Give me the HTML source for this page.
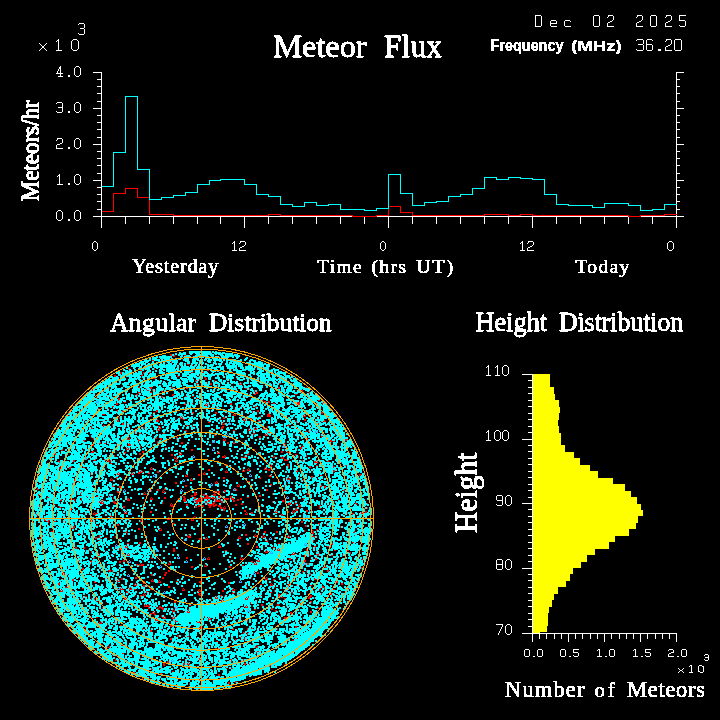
<!DOCTYPE html>
<html><head><meta charset="utf-8"><style>
html,body{margin:0;padding:0;background:#000;width:720px;height:720px;overflow:hidden}
svg{display:block}
</style></head><body>
<svg width="720" height="720" viewBox="0 0 720 720" shape-rendering="crispEdges">
<rect width="720" height="720" fill="#000"/>
<g stroke="#f00" fill="none"><path d="M211 352.5H212"/><path d="M170 354.5H172"/><path d="M170 355.5H186" stroke-dasharray="2 2 1 9 2 800"/><path d="M173 356.5H175"/><path d="M152 360.5H154"/><path d="M171 361.5H172"/><path d="M171 362.5H172"/><path d="M187 364.5H189"/><path d="M192 365.5H193"/><path d="M221 366.5H222"/><path d="M262 367.5H263"/><path d="M128 368.5H263" stroke-dasharray="2 24 1 107 1 800"/><path d="M128 369.5H232" stroke-dasharray="1 15 1 9 1 36 2 3 1 10 2 22 1 800"/><path d="M140 370.5H209" stroke-dasharray="2 65 2 800"/><path d="M203 371.5H250" stroke-dasharray="1 45 1 800"/><path d="M120 372.5H204" stroke-dasharray="2 21 2 4 2 40 2 9 2 800"/><path d="M120 373.5H150" stroke-dasharray="2 21 1 5 1 800"/><path d="M142 374.5H143"/><path d="M114 375.5H178" stroke-dasharray="2 25 2 34 1 800"/><path d="M114 376.5H179" stroke-dasharray="2 61 2 800"/><path d="M153 377.5H206" stroke-dasharray="1 50 2 800"/><path d="M153 378.5H260" stroke-dasharray="3 49 2 29 1 22 1 800"/><path d="M199 379.5H260" stroke-dasharray="1 5 2 22 1 29 1 800"/><path d="M195 380.5H230" stroke-dasharray="2 17 1 14 1 800"/><path d="M195 381.5H215" stroke-dasharray="1 18 1 800"/><path d="M161 382.5H241" stroke-dasharray="1 45 1 12 1 19 1 800"/><path d="M196 383.5H281" stroke-dasharray="2 9 1 2 2 21 1 5 1 1 1 37 2 800"/><path d="M196 384.5H242" stroke-dasharray="1 13 2 5 1 21 3 800"/><path d="M217 385.5H218"/><path d="M193 386.5H194"/><path d="M138 387.5H307" stroke-dasharray="2 9 3 19 2 19 2 39 1 44 2 25 2 800"/><path d="M145 388.5H310" stroke-dasharray="1 4 2 19 2 13 2 57 2 2 1 28 2 29 1 800"/><path d="M92 389.5H250" stroke-dasharray="1 53 1 5 1 11 1 19 1 35 1 9 1 18 1 800"/><path d="M92 390.5H303" stroke-dasharray="1 10 1 43 2 3 1 2 1 7 1 48 1 22 1 18 1 46 2 800"/><path d="M103 391.5H303" stroke-dasharray="1 51 1 5 2 91 1 46 2 800"/><path d="M138 392.5H310" stroke-dasharray="2 10 2 27 1 76 2 43 2 6 1 800"/><path d="M138 393.5H310" stroke-dasharray="1 116 3 51 1 800"/><path d="M136 394.5H297" stroke-dasharray="2 34 2 80 2 39 2 800"/><path d="M137 395.5H174" stroke-dasharray="1 34 2 800"/><path d="M106 396.5H194" stroke-dasharray="1 54 2 22 2 5 2 800"/><path d="M96 397.5H293" stroke-dasharray="1 64 2 82 1 46 1 800"/><path d="M97 398.5H219" stroke-dasharray="1 20 2 55 2 19 2 20 1 800"/><path d="M118 399.5H251" stroke-dasharray="2 130 1 800"/><path d="M118 400.5H320" stroke-dasharray="1 12 1 130 1 55 2 800"/><path d="M264 401.5H324" stroke-dasharray="2 2 2 53 1 800"/><path d="M124 402.5H324" stroke-dasharray="2 138 2 2 2 27 3 23 1 800"/><path d="M116 403.5H323" stroke-dasharray="2 67 1 6 1 13 1 5 2 16 2 41 2 22 3 16 1 5 1 800"/><path d="M116 404.5H323" stroke-dasharray="2 66 2 19 1 1 1 22 2 66 2 22 1 800"/><path d="M205 405.5H299" stroke-dasharray="3 90 1 800"/><path d="M112 406.5H257" stroke-dasharray="2 45 1 79 2 14 2 800"/><path d="M128 407.5H312" stroke-dasharray="1 87 1 22 1 15 1 55 1 800"/><path d="M98 408.5H283" stroke-dasharray="1 9 1 18 2 114 1 38 1 800"/><path d="M97 409.5H250" stroke-dasharray="1 136 1 14 1 800"/><path d="M80 410.5H259" stroke-dasharray="1 36 1 4 1 33 2 99 2 800"/><path d="M117 411.5H323" stroke-dasharray="1 4 2 32 2 94 1 4 2 63 1 800"/><path d="M68 412.5H323" stroke-dasharray="2 83 2 37 2 21 2 13 2 20 1 68 2 800"/><path d="M193 413.5H323" stroke-dasharray="1 21 2 17 1 33 1 52 2 800"/><path d="M102 414.5H326" stroke-dasharray="3 128 1 1 1 31 3 34 1 19 2 800"/><path d="M69 415.5H306" stroke-dasharray="1 81 1 81 3 31 4 32 1 1 1 800"/><path d="M150 416.5H329" stroke-dasharray="2 29 1 64 1 12 2 6 4 32 3 22 1 800"/><path d="M119 417.5H242" stroke-dasharray="1 59 2 1 1 40 2 16 1 800"/><path d="M119 418.5H252" stroke-dasharray="1 60 3 40 2 19 1 5 2 800"/><path d="M157 419.5H306" stroke-dasharray="1 9 1 15 2 24 1 9 2 22 1 1 1 58 2 800"/><path d="M117 420.5H325" stroke-dasharray="2 37 3 60 1 23 3 12 2 44 2 18 1 800"/><path d="M102 421.5H326" stroke-dasharray="1 14 2 37 3 49 1 49 1 36 2 20 1 5 3 800"/><path d="M208 422.5H297" stroke-dasharray="2 13 1 72 1 800"/><path d="M122 423.5H319" stroke-dasharray="2 98 1 1 1 93 1 800"/><path d="M112 424.5H319" stroke-dasharray="1 9 2 5 1 92 3 63 1 29 1 800"/><path d="M103 425.5H289" stroke-dasharray="2 7 1 73 2 4 1 94 2 800"/><path d="M91 426.5H312" stroke-dasharray="1 11 1 54 2 32 1 29 2 43 1 43 1 800"/><path d="M91 427.5H311" stroke-dasharray="1 33 1 17 2 13 1 1 1 60 3 31 1 8 1 2 1 42 1 800"/><path d="M91 428.5H297" stroke-dasharray="2 50 2 13 3 60 2 26 1 4 1 1 1 6 1 1 1 30 1 800"/><path d="M78 429.5H266" stroke-dasharray="1 57 2 19 1 1 1 56 2 2 1 27 1 1 1 3 3 6 3 800"/><path d="M157 430.5H309" stroke-dasharray="3 17 2 6 2 46 2 13 3 57 1 800"/><path d="M134 431.5H309" stroke-dasharray="1 51 1 118 2 1 1 800"/><path d="M134 432.5H310" stroke-dasharray="1 133 2 39 1 800"/><path d="M139 433.5H267" stroke-dasharray="2 22 2 88 2 11 1 800"/><path d="M214 434.5H324" stroke-dasharray="1 38 2 10 1 1 1 55 1 800"/><path d="M214 435.5H268" stroke-dasharray="2 49 3 800"/><path d="M259 436.5H323" stroke-dasharray="2 35 1 24 2 800"/><path d="M91 437.5H322" stroke-dasharray="1 36 1 27 1 19 2 81 2 15 1 44 1 800"/><path d="M93 438.5H308" stroke-dasharray="1 33 1 1 1 14 1 10 2 3 2 14 1 47 1 81 2 800"/><path d="M93 439.5H348" stroke-dasharray="1 33 3 8 1 21 2 14 1 46 1 1 1 80 2 4 1 32 3 800"/><path d="M83 440.5H347" stroke-dasharray="2 53 2 25 2 56 3 104 2 13 2 800"/><path d="M74 441.5H335" stroke-dasharray="2 8 1 72 2 171 2 1 2 800"/><path d="M100 442.5H235" stroke-dasharray="1 56 1 23 2 44 2 4 2 800"/><path d="M99 443.5H285" stroke-dasharray="2 3 2 23 1 27 1 23 2 44 2 4 2 49 1 800"/><path d="M92 444.5H286" stroke-dasharray="2 22 1 11 3 152 1 1 1 800"/><path d="M92 445.5H335" stroke-dasharray="2 22 1 4 1 6 3 153 2 48 1 800"/><path d="M140 446.5H340" stroke-dasharray="1 161 2 35 1 800"/><path d="M127 447.5H340" stroke-dasharray="1 8 1 3 1 24 2 133 2 37 1 800"/><path d="M126 448.5H302" stroke-dasharray="1 1 1 21 2 148 2 800"/><path d="M62 449.5H325" stroke-dasharray="1 63 3 62 2 60 2 69 1 800"/><path d="M61 450.5H289" stroke-dasharray="2 128 2 60 2 33 1 800"/><path d="M92 451.5H290" stroke-dasharray="2 48 2 74 1 26 1 35 2 4 1 1 1 800"/><path d="M54 452.5H290" stroke-dasharray="1 36 3 30 2 16 2 36 1 36 1 1 1 61 2 4 3 800"/><path d="M53 453.5H249" stroke-dasharray="1 1 1 69 1 13 2 38 1 1 1 35 3 28 1 800"/><path d="M53 454.5H297" stroke-dasharray="3 83 2 30 2 6 3 65 2 46 2 800"/><path d="M114 455.5H307" stroke-dasharray="1 56 2 51 1 70 1 10 1 800"/><path d="M114 456.5H307" stroke-dasharray="1 60 1 46 2 1 1 18 1 28 2 7 1 15 1 7 1 800"/><path d="M50 457.5H346" stroke-dasharray="2 122 1 1 1 45 4 15 2 1 3 26 2 6 1 1 1 14 1 46 1 800"/><path d="M174 458.5H346" stroke-dasharray="3 104 3 61 1 800"/><path d="M95 459.5H287" stroke-dasharray="1 8 1 4 1 66 1 107 3 800"/><path d="M73 460.5H329" stroke-dasharray="2 19 2 9 1 2 1 1 1 64 1 1 1 106 4 13 2 13 1 11 1 800"/><path d="M58 461.5H353" stroke-dasharray="2 13 2 33 3 64 3 124 1 11 2 1 1 9 2 23 1 800"/><path d="M59 462.5H353" stroke-dasharray="1 254 4 23 1 10 1 800"/><path d="M110 463.5H112"/><path d="M225 464.5H289" stroke-dasharray="2 43 1 16 2 800"/><path d="M225 465.5H347" stroke-dasharray="2 42 1 1 1 15 2 27 2 27 2 800"/><path d="M60 466.5H335" stroke-dasharray="1 10 1 197 3 16 1 20 2 22 2 800"/><path d="M59 467.5H334" stroke-dasharray="1 1 1 7 2 12 2 66 1 113 1 22 1 20 2 22 1 800"/><path d="M59 468.5H272" stroke-dasharray="3 7 2 79 1 1 1 95 1 15 1 1 1 3 2 800"/><path d="M150 469.5H306" stroke-dasharray="3 55 2 33 1 3 1 1 1 14 3 1 2 35 1 800"/><path d="M141 470.5H335" stroke-dasharray="1 66 2 16 1 15 1 1 1 2 3 18 2 27 1 15 1 19 2 800"/><path d="M140 471.5H335" stroke-dasharray="1 1 1 14 2 66 1 1 1 14 3 51 2 35 2 800"/><path d="M118 472.5H228" stroke-dasharray="1 13 1 5 5 6 1 7 2 45 1 20 3 800"/><path d="M90 473.5H206" stroke-dasharray="1 26 1 1 1 11 1 1 1 4 2 8 2 53 1 1 1 800"/><path d="M90 474.5H362" stroke-dasharray="1 26 3 11 3 52 1 11 2 3 3 64 1 48 1 39 3 800"/><path d="M185 475.5H361" stroke-dasharray="1 1 1 10 2 69 1 1 1 48 2 37 2 800"/><path d="M185 476.5H313" stroke-dasharray="3 81 3 39 2 800"/><path d="M116 477.5H313" stroke-dasharray="2 105 2 35 1 27 1 10 1 11 2 800"/><path d="M111 478.5H300" stroke-dasharray="1 4 1 74 1 31 2 34 2 26 1 1 1 9 1 800"/><path d="M74 479.5H305" stroke-dasharray="1 35 1 1 1 77 1 1 1 94 3 13 2 800"/><path d="M54 480.5H310" stroke-dasharray="1 19 1 35 3 77 3 110 1 5 1 800"/><path d="M78 481.5H250" stroke-dasharray="1 137 1 31 2 800"/><path d="M175 482.5H218" stroke-dasharray="2 38 1 1 1 800"/><path d="M72 483.5H218" stroke-dasharray="1 102 2 38 3 800"/><path d="M72 484.5H353" stroke-dasharray="1 165 1 31 2 80 1 800"/><path d="M93 485.5H354" stroke-dasharray="1 18 1 72 2 50 1 1 1 31 1 12 1 36 1 31 1 800"/><path d="M112 486.5H326" stroke-dasharray="2 5 2 64 2 50 3 44 1 35 2 2 2 800"/><path d="M86 487.5H326" stroke-dasharray="1 32 2 203 2 800"/><path d="M37 488.5H236" stroke-dasharray="1 99 1 26 1 70 1 800"/><path d="M37 489.5H345" stroke-dasharray="2 118 2 5 2 68 1 1 1 29 2 16 1 59 1 800"/><path d="M96 490.5H345" stroke-dasharray="1 54 1 5 2 4 1 60 2 10 1 29 2 16 2 57 2 800"/><path d="M96 491.5H226" stroke-dasharray="1 20 2 32 1 10 1 1 1 48 4 1 2 4 2 800"/><path d="M58 492.5H309" stroke-dasharray="1 22 1 35 2 25 1 17 3 29 2 17 4 1 2 88 1 800"/><path d="M80 493.5H310" stroke-dasharray="1 62 1 1 1 48 3 17 1 3 2 52 1 34 1 1 1 800"/><path d="M38 494.5H310" stroke-dasharray="1 104 3 48 3 6 2 8 3 56 1 34 3 800"/><path d="M38 495.5H261" stroke-dasharray="1 42 1 109 2 1 2 7 2 1 2 5 3 43 2 800"/><path d="M86 496.5H332" stroke-dasharray="1 9 2 3 1 81 2 6 2 13 3 9 2 1 2 7 2 27 2 61 1 8 1 800"/><path d="M47 497.5H249" stroke-dasharray="2 64 1 37 1 12 2 17 2 9 2 4 3 1 7 1 2 4 2 1 2 7 2 15 2 800"/><path d="M70 498.5H305" stroke-dasharray="1 10 1 31 1 13 2 21 1 1 1 11 2 12 2 4 2 8 2 2 5 1 7 1 2 1 2 7 5 2 3 6 2 61 2 800"/><path d="M61 499.5H339" stroke-dasharray="1 8 2 1 2 6 1 45 3 20 3 25 2 3 3 11 3 1 2 12 2 2 2 3 5 2 3 3 2 1 2 61 1 34 1 800"/><path d="M60 500.5H284" stroke-dasharray="2 12 1 6 1 18 1 2 1 23 3 53 3 9 8 5 2 5 6 12 2 2 2 43 2 800"/><path d="M99 501.5H293" stroke-dasharray="1 1 2 10 2 69 2 9 6 4 2 1 2 5 5 1 2 10 2 37 1 9 2 8 1 800"/><path d="M99 502.5H292" stroke-dasharray="3 1 1 9 3 46 1 33 2 7 2 6 2 6 2 49 1 16 1 1 1 800"/><path d="M101 503.5H368" stroke-dasharray="3 10 2 46 1 8 1 24 2 9 2 3 3 26 2 45 3 4 2 58 2 10 1 800"/><path d="M53 504.5H357" stroke-dasharray="2 115 1 1 1 13 2 19 7 1 2 18 2 4 2 45 3 4 1 3 1 56 1 800"/><path d="M39 505.5H321" stroke-dasharray="1 130 3 13 2 10 2 2 2 4 4 1 4 1 3 14 2 61 1 1 1 18 2 800"/><path d="M39 506.5H334" stroke-dasharray="1 19 1 63 2 46 2 22 2 1 2 2 2 5 2 2 2 3 3 3 1 36 1 36 3 18 1 12 2 800"/><path d="M59 507.5H368" stroke-dasharray="2 62 2 70 2 12 2 9 2 1 1 1 1 93 1 12 1 34 1 800"/><path d="M71 508.5H368" stroke-dasharray="1 148 2 1 3 69 2 22 2 43 1 2 1 800"/><path d="M71 509.5H298" stroke-dasharray="1 151 2 70 3 800"/><path d="M89 510.5H308" stroke-dasharray="1 133 2 19 2 11 1 18 1 16 1 1 3 8 2 800"/><path d="M125 511.5H367" stroke-dasharray="1 24 2 92 2 11 1 17 1 1 1 9 2 3 1 1 1 11 2 54 1 2 2 800"/><path d="M94 512.5H367" stroke-dasharray="1 9 1 19 1 1 1 23 2 94 1 4 2 22 3 9 2 3 3 52 1 13 1 1 1 1 2 800"/><path d="M35 513.5H364" stroke-dasharray="1 57 1 1 3 26 3 118 1 1 1 3 2 94 1 4 2 7 3 800"/><path d="M36 514.5H353" stroke-dasharray="1 32 1 23 3 149 3 33 2 69 1 800"/><path d="M37 515.5H283" stroke-dasharray="1 31 1 41 1 169 2 800"/><path d="M110 516.5H195" stroke-dasharray="2 82 1 800"/><path d="M168 517.5H317" stroke-dasharray="1 24 1 1 1 74 1 45 1 800"/><path d="M167 518.5H317" stroke-dasharray="1 1 1 22 4 73 1 46 1 800"/><path d="M44 519.5H194" stroke-dasharray="1 46 1 37 1 11 1 25 3 21 1 1 1 800"/><path d="M44 520.5H350" stroke-dasharray="2 2 2 40 1 1 1 35 1 11 1 1 1 48 3 155 1 800"/><path d="M47 521.5H350" stroke-dasharray="2 5 2 9 1 18 1 5 3 33 1 13 3 158 2 46 1 800"/><path d="M33 522.5H303" stroke-dasharray="1 14 1 16 1 235 2 800"/><path d="M173 523.5H360" stroke-dasharray="2 143 2 6 1 31 2 800"/><path d="M103 524.5H359" stroke-dasharray="1 13 2 54 1 145 1 6 1 31 1 800"/><path d="M96 525.5H307" stroke-dasharray="2 17 1 1 2 186 2 800"/><path d="M73 526.5H341" stroke-dasharray="2 39 2 189 2 33 1 800"/><path d="M73 527.5H341" stroke-dasharray="2 265 1 800"/><path d="M72 528.5H161" stroke-dasharray="2 64 2 20 1 800"/><path d="M138 529.5H318" stroke-dasharray="2 19 1 1 1 154 2 800"/><path d="M100 530.5H317" stroke-dasharray="1 58 3 142 1 7 1 3 1 800"/><path d="M51 531.5H355" stroke-dasharray="2 38 2 7 1 25 1 137 2 10 2 26 1 6 1 1 1 32 1 7 1 800"/><path d="M125 532.5H355" stroke-dasharray="2 137 2 10 2 33 3 32 1 6 2 800"/><path d="M79 533.5H314" stroke-dasharray="1 47 1 184 2 800"/><path d="M78 534.5H256" stroke-dasharray="2 47 1 60 1 56 2 8 1 800"/><path d="M42 535.5H355" stroke-dasharray="1 56 2 86 1 1 1 55 2 7 1 1 1 6 1 24 1 65 1 800"/><path d="M42 536.5H315" stroke-dasharray="1 56 1 15 1 71 4 48 1 14 3 5 1 1 1 22 1 1 1 22 3 800"/><path d="M95 537.5H335" stroke-dasharray="2 2 1 5 2 8 1 72 3 15 1 31 1 1 1 21 3 9 1 12 3 24 1 19 1 800"/><path d="M39 538.5H275" stroke-dasharray="2 44 1 9 2 3 1 18 2 78 2 4 1 1 1 30 3 33 1 800"/><path d="M41 539.5H208" stroke-dasharray="1 157 2 4 3 800"/><path d="M41 540.5H314" stroke-dasharray="1 57 1 167 1 45 1 800"/><path d="M266 541.5H347" stroke-dasharray="2 45 1 32 1 800"/><path d="M53 542.5H354" stroke-dasharray="1 85 2 211 2 800"/><path d="M99 543.5H369" stroke-dasharray="1 27 2 10 2 106 2 29 2 52 1 35 1 800"/><path d="M247 544.5H333" stroke-dasharray="2 82 2 800"/><path d="M54 545.5H351" stroke-dasharray="2 70 1 92 1 130 1 800"/><path d="M125 546.5H329" stroke-dasharray="1 1 1 90 1 1 1 35 2 56 2 11 2 800"/><path d="M34 547.5H331" stroke-dasharray="1 40 2 7 1 35 1 4 3 90 3 35 2 15 2 32 2 6 1 13 2 800"/><path d="M75 548.5H309" stroke-dasharray="2 6 2 34 1 1 1 51 2 103 1 28 2 800"/><path d="M88 549.5H308" stroke-dasharray="1 30 3 51 2 102 1 1 1 26 2 800"/><path d="M89 550.5H349" stroke-dasharray="1 83 2 50 2 39 1 10 3 26 2 26 2 11 2 800"/><path d="M91 551.5H364" stroke-dasharray="1 81 2 90 1 1 1 1 1 46 1 46 1 800"/><path d="M91 552.5H351" stroke-dasharray="1 173 3 25 1 55 2 800"/><path d="M98 553.5H351" stroke-dasharray="1 16 1 12 1 3 1 159 1 1 1 24 1 30 1 800"/><path d="M97 554.5H343" stroke-dasharray="1 1 1 27 1 1 1 162 3 14 1 6 3 23 1 800"/><path d="M97 555.5H343" stroke-dasharray="3 27 3 174 1 4 2 6 2 12 2 9 1 800"/><path d="M304 556.5H306"/><path d="M79 557.5H337" stroke-dasharray="1 14 1 56 1 34 2 20 1 32 1 94 1 800"/><path d="M93 558.5H317" stroke-dasharray="2 56 2 33 2 19 1 1 1 30 1 1 1 46 2 24 2 800"/><path d="M207 559.5H366" stroke-dasharray="3 30 3 15 1 24 1 5 2 20 1 3 2 44 2 2 1 800"/><path d="M79 560.5H306" stroke-dasharray="1 43 2 132 1 1 1 44 2 800"/><path d="M78 561.5H306" stroke-dasharray="1 11 2 3 1 23 2 2 2 105 1 20 2 4 3 44 2 800"/><path d="M91 562.5H256" stroke-dasharray="1 27 2 48 1 60 1 21 1 2 1 800"/><path d="M98 563.5H333" stroke-dasharray="1 41 1 27 1 1 1 83 1 1 1 50 2 23 1 800"/><path d="M90 564.5H360" stroke-dasharray="1 45 2 1 1 1 3 24 3 34 1 48 3 50 2 50 1 800"/><path d="M136 565.5H244" stroke-dasharray="1 2 5 60 1 1 1 35 2 800"/><path d="M191 566.5H326" stroke-dasharray="2 11 3 22 2 94 1 800"/><path d="M191 567.5H363" stroke-dasharray="2 36 2 94 2 7 1 26 2 800"/><path d="M82 568.5H362" stroke-dasharray="2 277 1 800"/><path d="M82 569.5H291" stroke-dasharray="2 36 1 168 2 800"/><path d="M108 570.5H329" stroke-dasharray="3 1 1 55 2 125 1 10 1 20 2 800"/><path d="M109 571.5H329" stroke-dasharray="2 1 1 55 2 68 1 15 1 47 2 2 1 20 2 800"/><path d="M50 572.5H332" stroke-dasharray="1 12 1 101 2 71 1 18 2 43 1 28 1 800"/><path d="M62 573.5H311" stroke-dasharray="1 1 1 100 2 90 2 38 2 11 1 800"/><path d="M62 574.5H311" stroke-dasharray="3 86 2 11 2 121 1 9 1 11 2 800"/><path d="M91 575.5H288" stroke-dasharray="1 59 2 11 2 121 1 800"/><path d="M92 576.5H289" stroke-dasharray="1 194 2 800"/><path d="M135 577.5H267" stroke-dasharray="2 25 2 87 1 14 1 800"/><path d="M107 578.5H315" stroke-dasharray="1 13 2 12 2 25 2 101 1 1 1 25 1 20 1 800"/><path d="M63 579.5H317" stroke-dasharray="1 8 2 44 1 2 2 29 1 112 3 5 2 39 3 800"/><path d="M72 580.5H337" stroke-dasharray="2 43 1 1 1 31 1 1 1 5 1 113 1 54 2 6 1 800"/><path d="M94 581.5H338" stroke-dasharray="1 22 3 24 1 6 3 4 1 1 1 15 2 21 2 78 1 55 1 1 1 800"/><path d="M94 582.5H338" stroke-dasharray="2 47 1 1 1 12 3 38 3 26 2 105 3 800"/><path d="M58 583.5H343" stroke-dasharray="2 75 1 7 3 54 2 26 2 41 1 69 2 800"/><path d="M58 584.5H343" stroke-dasharray="2 74 1 1 1 123 2 8 1 1 1 15 2 6 1 44 2 800"/><path d="M99 585.5H312" stroke-dasharray="1 34 3 6 2 2 2 97 1 23 3 15 2 6 1 13 2 800"/><path d="M143 586.5H324" stroke-dasharray="2 2 2 19 2 76 1 75 2 800"/><path d="M65 587.5H325" stroke-dasharray="3 53 1 8 1 37 2 104 1 12 1 34 3 800"/><path d="M82 588.5H349" stroke-dasharray="2 36 1 1 1 6 1 1 1 18 2 31 1 49 1 86 1 3 1 23 1 800"/><path d="M61 589.5H335" stroke-dasharray="1 58 3 6 3 2 2 14 2 30 1 1 1 14 1 32 1 1 1 84 2 12 2 800"/><path d="M60 590.5H353" stroke-dasharray="1 1 1 9 1 109 3 13 1 1 1 21 2 8 3 39 1 77 1 800"/><path d="M60 591.5H307" stroke-dasharray="3 64 1 18 2 50 3 21 2 50 1 31 1 800"/><path d="M126 592.5H293" stroke-dasharray="2 18 1 85 1 37 2 19 2 800"/><path d="M128 593.5H332" stroke-dasharray="1 15 1 53 3 31 2 5 1 46 1 34 1 8 2 800"/><path d="M143 594.5H332" stroke-dasharray="1 1 1 52 2 1 1 76 2 6 1 34 1 8 2 800"/><path d="M140 595.5H312" stroke-dasharray="2 1 3 53 3 18 2 30 1 8 1 16 2 30 2 800"/><path d="M68 596.5H312" stroke-dasharray="1 16 2 47 1 5 1 75 1 3 1 3 1 23 1 29 2 2 1 26 3 800"/><path d="M82 597.5H338" stroke-dasharray="1 42 1 89 1 1 1 28 1 1 1 10 1 21 2 25 3 26 1 800"/><path d="M83 598.5H310" stroke-dasharray="1 7 1 2 1 29 1 1 1 88 3 27 1 1 1 36 2 22 2 800"/><path d="M91 599.5H285" stroke-dasharray="1 2 1 29 3 81 1 13 1 22 3 36 1 800"/><path d="M95 600.5H301" stroke-dasharray="1 125 1 1 1 75 2 800"/><path d="M96 601.5H312" stroke-dasharray="1 77 2 45 3 75 1 10 2 800"/><path d="M174 602.5H340" stroke-dasharray="2 74 1 60 1 21 1 5 1 800"/><path d="M250 603.5H340" stroke-dasharray="1 49 1 38 1 800"/><path d="M129 604.5H279" stroke-dasharray="1 15 1 2 1 66 1 45 2 14 2 800"/><path d="M75 605.5H279" stroke-dasharray="1 68 1 1 2 1 1 39 2 55 1 14 2 14 2 800"/><path d="M144 606.5H330" stroke-dasharray="6 5 1 3 2 84 1 1 1 34 1 3 1 42 1 800"/><path d="M102 607.5H333" stroke-dasharray="1 45 1 7 1 2 4 11 1 70 3 70 1 13 1 800"/><path d="M102 608.5H319" stroke-dasharray="1 31 1 13 2 7 2 2 3 107 2 44 2 800"/><path d="M100 609.5H297" stroke-dasharray="1 57 1 3 2 9 1 14 1 65 2 15 2 22 2 800"/><path d="M65 610.5H277" stroke-dasharray="1 34 1 71 1 1 1 3 1 9 1 86 2 800"/><path d="M153 611.5H312" stroke-dasharray="1 18 3 12 1 1 1 60 1 24 1 34 2 800"/><path d="M152 612.5H312" stroke-dasharray="1 1 1 32 3 100 2 18 2 800"/><path d="M150 613.5H292" stroke-dasharray="5 132 1 2 2 800"/><path d="M151 614.5H156" stroke-dasharray="1 2 2 800"/><path d="M78 615.5H178" stroke-dasharray="1 75 1 6 1 15 1 800"/><path d="M161 616.5H205" stroke-dasharray="1 2 1 8 1 30 1 800"/><path d="M76 617.5H287" stroke-dasharray="1 14 1 4 2 35 2 23 1 3 2 1 1 6 1 1 1 34 1 17 1 56 3 800"/><path d="M91 618.5H287" stroke-dasharray="2 27 1 35 1 6 3 6 3 33 1 1 1 73 3 800"/><path d="M155 619.5H239" stroke-dasharray="1 1 1 50 3 27 1 800"/><path d="M155 620.5H248" stroke-dasharray="3 17 1 71 1 800"/><path d="M100 621.5H248" stroke-dasharray="1 13 1 60 3 21 1 47 1 800"/><path d="M77 622.5H200" stroke-dasharray="1 21 1 1 1 12 1 82 3 800"/><path d="M99 623.5H108" stroke-dasharray="3 5 1 800"/><path d="M107 624.5H172" stroke-dasharray="1 39 1 23 1 800"/><path d="M120 625.5H173" stroke-dasharray="2 48 3 800"/><path d="M84 626.5H297" stroke-dasharray="1 85 3 17 1 9 1 21 1 72 2 800"/><path d="M84 627.5H297" stroke-dasharray="2 27 1 85 2 21 1 72 2 800"/><path d="M142 628.5H278" stroke-dasharray="1 56 2 32 1 13 1 3 2 24 1 800"/><path d="M85 629.5H308" stroke-dasharray="1 56 1 18 1 23 1 13 1 32 2 13 1 29 1 29 1 800"/><path d="M85 630.5H152" stroke-dasharray="1 64 2 800"/><path d="M150 631.5H152"/><path d="M243 632.5H249" stroke-dasharray="2 3 1 800"/><path d="M243 633.5H248" stroke-dasharray="1 3 1 800"/><path d="M84 634.5H248" stroke-dasharray="1 129 1 32 1 800"/><path d="M177 635.5H179"/><path d="M177 636.5H242" stroke-dasharray="2 8 2 52 1 800"/><path d="M240 637.5H241"/><path d="M170 638.5H298" stroke-dasharray="2 72 1 49 1 2 1 800"/><path d="M170 639.5H245" stroke-dasharray="2 63 2 6 2 800"/><path d="M198 640.5H294" stroke-dasharray="1 36 1 56 2 800"/><path d="M216 641.5H218"/><path d="M173 642.5H174"/><path d="M252 643.5H253"/><path d="M100 644.5H123" stroke-dasharray="2 20 1 800"/><path d="M101 645.5H257" stroke-dasharray="1 6 1 12 2 81 1 23 1 27 1 800"/><path d="M107 646.5H258" stroke-dasharray="1 1 1 94 1 50 1 1 1 800"/><path d="M107 647.5H258" stroke-dasharray="3 145 3 800"/><path d="M180 648.5H217" stroke-dasharray="1 34 2 800"/><path d="M218 649.5H237" stroke-dasharray="2 16 1 800"/><path d="M240 650.5H241"/><path d="M257 651.5H259"/><path d="M171 652.5H257" stroke-dasharray="1 84 1 800"/><path d="M122 653.5H172" stroke-dasharray="2 47 1 800"/><path d="M255 654.5H256"/><path d="M117 655.5H261" stroke-dasharray="1 72 2 68 1 800"/><path d="M191 656.5H300" stroke-dasharray="1 106 2 800"/><path d="M200 657.5H300" stroke-dasharray="1 97 2 800"/><path d="M140 658.5H202" stroke-dasharray="1 45 1 12 1 1 1 800"/><path d="M115 659.5H244" stroke-dasharray="1 24 1 58 3 28 2 11 1 800"/><path d="M115 660.5H244" stroke-dasharray="2 71 1 29 1 12 1 11 1 800"/><path d="M167 661.5H236" stroke-dasharray="2 49 1 12 1 3 1 800"/><path d="M163 662.5H255" stroke-dasharray="2 2 2 19 1 65 1 800"/><path d="M163 663.5H246" stroke-dasharray="2 18 2 2 1 1 1 54 2 800"/><path d="M163 664.5H287" stroke-dasharray="2 18 2 2 3 46 1 7 2 3 1 35 2 800"/><path d="M163 665.5H275" stroke-dasharray="2 105 1 3 1 800"/><path d="M188 666.5H270" stroke-dasharray="1 80 1 800"/><path d="M188 667.5H226" stroke-dasharray="2 35 1 800"/><path d="M151 668.5H233" stroke-dasharray="1 8 1 65 1 4 2 800"/><path d="M151 669.5H153"/><path d="M222 670.5H223"/><path d="M172 671.5H174"/><path d="M133 672.5H135"/><path d="M138 673.5H162" stroke-dasharray="1 21 2 800"/><path d="M218 674.5H220"/><path d="M218 675.5H220"/><path d="M142 678.5H143"/><path d="M141 679.5H200" stroke-dasharray="1 1 1 55 1 800"/><path d="M199 680.5H200"/><path d="M235 681.5H237"/><path d="M164 682.5H236" stroke-dasharray="1 63 2 5 1 800"/><path d="M164 683.5H230" stroke-dasharray="2 23 1 38 2 800"/><path d="M189 684.5H190"/><path d="M232 685.5H233"/><path d="M188 686.5H189"/><path d="M188 687.5H189"/><path d="M198 689.5H199"/></g><g stroke="#0ff" fill="none"><path d="M189 351.5H217" stroke-dasharray="22 1 2 1 2 800"/><path d="M179 352.5H225" stroke-dasharray="2 2 3 3 22 1 9 1 3 800"/><path d="M175 353.5H233" stroke-dasharray="2 2 7 3 4 2 5 1 11 2 19 800"/><path d="M172 354.5H238" stroke-dasharray="2 1 2 1 8 4 2 4 5 1 12 1 2 1 5 2 8 1 4 800"/><path d="M162 355.5H240" stroke-dasharray="4 6 2 4 2 1 2 3 4 5 13 2 4 6 4 1 15 800"/><path d="M156 356.5H240" stroke-dasharray="2 1 13 8 3 1 7 2 16 2 3 1 4 2 13 1 5 800"/><path d="M152 357.5H248" stroke-dasharray="6 1 13 8 2 2 7 2 5 1 2 1 2 2 4 1 8 2 8 3 2 2 3 7 2 800"/><path d="M149 358.5H248" stroke-dasharray="2 1 5 3 10 1 2 2 2 1 3 3 5 4 6 6 5 2 6 1 9 8 2 7 3 800"/><path d="M145 359.5H253" stroke-dasharray="2 2 2 1 8 1 2 1 9 1 3 1 3 2 6 3 7 1 3 1 3 1 4 1 9 1 2 1 5 1 4 4 2 2 3 3 3 800"/><path d="M144 360.5H256" stroke-dasharray="7 3 6 1 17 5 6 3 4 1 6 1 2 1 5 1 9 1 2 1 16 2 2 3 7 800"/><path d="M140 361.5H261" stroke-dasharray="9 3 2 4 13 1 6 7 5 2 4 3 4 4 4 3 2 3 4 3 2 2 10 9 2 2 3 2 3 800"/><path d="M139 362.5H263" stroke-dasharray="5 1 3 4 2 2 2 2 2 1 2 2 3 2 6 2 3 4 3 2 6 1 5 4 3 2 3 5 2 3 2 1 3 1 8 5 5 3 9 800"/><path d="M135 363.5H266" stroke-dasharray="11 2 2 1 4 1 2 2 2 1 2 3 4 2 3 2 4 1 2 1 3 1 7 1 5 1 2 6 4 1 4 3 3 1 13 4 17 1 2 800"/><path d="M132 364.5H270" stroke-dasharray="8 1 5 1 10 2 6 1 6 1 4 2 4 1 2 5 2 2 2 1 2 1 2 2 4 1 4 1 2 1 4 3 5 2 3 1 7 5 22 800"/><path d="M131 365.5H270" stroke-dasharray="9 1 2 2 7 1 5 1 17 1 2 1 3 1 2 4 2 2 3 1 2 7 7 5 2 5 11 1 5 5 3 4 9 2 4 800"/><path d="M131 366.5H270" stroke-dasharray="11 2 8 1 23 1 2 2 8 1 6 1 6 1 2 1 6 3 5 1 2 2 11 1 5 2 8 1 10 2 4 800"/><path d="M126 367.5H269" stroke-dasharray="2 5 3 3 3 1 9 2 21 2 2 2 14 1 10 1 2 2 13 3 10 3 4 1 8 1 2 1 5 1 6 800"/><path d="M126 368.5H275" stroke-dasharray="2 5 2 3 12 2 2 2 2 2 3 3 9 1 3 1 15 1 5 1 3 2 10 3 4 3 7 1 2 3 4 1 10 2 5 1 6 4 2 800"/><path d="M123 369.5H279" stroke-dasharray="2 4 2 3 2 2 6 1 5 2 2 5 6 1 13 1 10 3 2 2 4 1 2 5 3 2 4 2 4 5 2 2 5 4 13 2 5 3 4 2 8 800"/><path d="M123 370.5H279" stroke-dasharray="5 1 3 2 2 6 2 3 4 4 2 2 3 1 2 1 10 1 4 5 7 2 5 1 2 7 9 4 2 4 2 2 13 2 6 5 5 2 7 1 5 800"/><path d="M118 371.5H282" stroke-dasharray="2 5 7 6 4 4 5 1 2 1 2 2 4 3 11 2 3 2 9 2 5 1 2 1 3 4 5 1 2 2 4 3 4 4 6 8 2 1 2 3 6 2 7 1 2 2 4 800"/><path d="M116 372.5H286" stroke-dasharray="4 2 2 1 7 3 2 1 4 3 4 3 2 5 6 3 10 2 2 2 7 4 6 3 4 4 2 5 5 3 5 4 9 5 5 2 5 4 3 1 3 1 2 1 9 800"/><path d="M116 373.5H286" stroke-dasharray="4 2 10 1 9 2 4 2 6 3 6 1 14 2 7 2 18 2 2 2 9 1 4 8 9 4 5 1 14 1 3 1 11 800"/><path d="M118 374.5H286" stroke-dasharray="3 1 10 1 9 2 4 1 7 6 2 2 9 3 2 2 17 1 5 2 17 1 2 1 7 2 9 2 3 2 2 1 3 1 10 1 3 1 5 3 3 800"/><path d="M118 375.5H290" stroke-dasharray="22 4 3 1 8 4 4 1 11 2 2 2 5 2 7 1 2 1 15 2 2 3 2 2 9 3 8 2 3 6 8 1 4 2 10 2 6 800"/><path d="M109 376.5H293" stroke-dasharray="4 3 2 2 5 1 15 1 15 3 2 3 4 2 5 6 15 2 4 1 8 5 2 4 2 1 7 3 2 2 5 1 2 2 2 6 7 1 4 2 4 1 7 1 5 1 2 800"/><path d="M109 377.5H293" stroke-dasharray="10 1 5 4 3 2 2 1 4 1 3 2 3 1 2 1 3 3 9 2 6 3 2 5 6 1 9 5 3 4 5 3 2 1 8 2 8 2 6 5 2 1 11 1 3 4 14 800"/><path d="M108 378.5H296" stroke-dasharray="2 2 7 1 6 3 11 3 2 2 3 1 2 7 8 3 6 3 7 1 5 3 7 5 3 4 5 6 8 3 3 3 2 1 6 1 2 2 2 1 6 2 8 2 9 2 2 2 3 800"/><path d="M106 379.5H297" stroke-dasharray="12 1 7 2 9 1 3 2 2 2 2 6 2 7 6 3 7 1 13 2 3 1 2 6 3 7 4 4 3 1 2 5 8 2 2 1 9 1 27 3 2 1 4 800"/><path d="M105 380.5H297" stroke-dasharray="13 1 6 3 7 4 4 2 4 1 2 3 4 1 2 5 4 5 4 2 6 1 5 3 2 2 4 7 2 4 4 1 3 1 2 1 2 7 4 4 2 2 8 1 15 1 2 1 8 3 7 800"/><path d="M103 381.5H298" stroke-dasharray="13 3 2 7 8 4 4 1 7 1 9 1 2 4 12 2 5 1 5 2 2 2 5 3 2 2 2 1 2 2 3 1 3 4 5 1 2 9 2 3 14 1 2 3 4 2 3 1 7 2 7 800"/><path d="M102 382.5H300" stroke-dasharray="9 1 2 1 2 2 2 3 6 2 4 3 5 1 5 1 10 2 3 2 13 1 6 3 2 3 2 2 7 1 2 3 6 2 4 2 2 1 8 6 5 1 7 2 7 1 2 4 4 1 3 1 7 5 6 800"/><path d="M100 383.5H302" stroke-dasharray="11 1 9 1 7 2 7 1 4 2 4 2 10 1 5 1 4 1 8 1 4 8 2 6 5 1 2 3 7 1 4 2 2 2 2 1 5 1 1 2 6 1 8 2 8 1 2 2 6 6 4 1 2 1 9 800"/><path d="M98 384.5H302" stroke-dasharray="5 1 6 1 9 2 7 1 9 2 2 1 14 4 5 1 3 1 9 2 5 6 2 1 2 3 8 3 2 3 2 2 9 5 3 4 2 7 7 6 7 1 2 2 2 5 5 1 12 800"/><path d="M96 385.5H302" stroke-dasharray="11 1 8 7 4 3 2 1 6 2 17 1 2 2 8 1 10 1 10 1 2 1 2 2 2 1 5 4 4 1 2 5 6 5 6 2 2 2 3 1 11 2 7 1 5 2 3 1 18 800"/><path d="M95 386.5H303" stroke-dasharray="12 1 9 6 7 3 5 2 13 3 5 2 6 3 3 1 6 4 7 2 2 3 3 1 8 2 3 1 2 1 9 1 2 1 9 1 7 2 10 3 2 5 5 2 3 1 2 2 5 2 8 800"/><path d="M95 387.5H305" stroke-dasharray="14 2 6 4 2 2 5 3 5 2 2 2 5 8 5 4 5 5 4 3 2 1 2 1 2 4 7 2 8 2 2 4 13 1 2 2 5 1 5 8 6 3 2 3 2 2 3 3 5 1 6 1 3 2 6 800"/><path d="M93 388.5H309" stroke-dasharray="6 1 3 1 5 2 3 1 8 4 2 4 7 1 3 2 4 6 8 1 6 2 2 2 8 4 2 6 4 5 2 6 2 2 9 2 8 1 4 5 2 2 2 5 4 8 4 1 2 4 3 3 6 1 2 3 10 800"/><path d="M93 389.5H310" stroke-dasharray="2 2 5 2 5 1 2 2 8 3 4 3 8 1 5 1 4 2 2 1 8 1 10 5 4 5 2 2 4 4 2 7 2 1 2 2 3 1 6 4 6 3 2 5 2 1 3 6 3 8 4 3 3 1 4 1 6 7 3 1 7 800"/><path d="M90 390.5H310" stroke-dasharray="2 1 10 1 5 1 18 4 8 1 2 1 3 2 2 2 2 1 7 1 2 5 5 8 2 3 2 1 7 2 2 4 2 1 2 1 2 2 2 2 6 3 3 3 2 2 7 3 4 1 2 2 3 3 2 3 5 2 3 1 4 1 6 1 2 2 3 5 5 800"/><path d="M89 391.5H313" stroke-dasharray="14 1 24 4 5 1 2 1 9 3 2 1 4 4 2 8 4 3 2 1 3 2 5 3 2 2 3 3 2 1 5 5 3 1 3 3 8 3 6 5 2 1 2 8 2 3 5 3 7 1 9 2 4 6 2 2 2 800"/><path d="M88 392.5H313" stroke-dasharray="9 2 5 2 10 1 5 3 2 5 5 4 9 3 6 7 2 6 5 2 2 2 8 3 2 4 4 6 2 2 6 3 12 1 2 1 5 4 2 1 2 9 4 3 3 4 4 1 6 3 9 9 3 800"/><path d="M87 393.5H313" stroke-dasharray="4 2 2 6 7 1 3 2 2 1 3 5 2 1 2 9 2 1 10 1 6 3 3 1 2 6 6 1 3 3 5 4 2 1 2 3 8 2 6 7 16 1 4 2 2 1 2 6 7 1 7 2 4 2 2 1 2 5 4 3 3 3 2 1 3 800"/><path d="M85 394.5H317" stroke-dasharray="10 2 10 2 3 1 6 3 2 1 5 1 2 6 2 1 10 1 6 3 3 11 4 1 3 2 3 3 2 5 2 1 16 5 13 1 5 2 4 1 2 9 6 1 10 2 4 3 2 12 9 1 4 1 2 800"/><path d="M85 395.5H317" stroke-dasharray="10 2 15 1 6 3 2 2 4 1 3 1 2 1 2 3 8 2 3 1 2 15 10 2 5 1 2 2 2 1 2 1 9 1 7 4 10 3 6 1 9 7 6 1 11 2 6 1 4 1 4 5 17 800"/><path d="M83 396.5H319" stroke-dasharray="3 1 7 3 4 2 3 1 5 3 4 7 4 1 3 1 2 1 6 3 5 1 5 1 2 5 3 4 5 1 4 4 4 5 5 3 6 4 7 5 7 1 7 2 9 7 6 1 6 1 3 1 5 1 2 2 8 2 6 1 2 1 3 2 7 800"/><path d="M82 397.5H319" stroke-dasharray="12 3 12 1 8 4 3 1 8 2 2 2 6 2 4 3 3 1 2 2 2 1 10 1 4 3 6 4 2 1 6 1 6 2 9 5 3 2 2 1 3 1 3 2 2 1 2 5 3 2 2 2 2 2 2 2 13 4 2 1 2 5 10 2 10 800"/><path d="M82 398.5H320" stroke-dasharray="15 2 10 1 7 3 5 1 12 2 7 1 4 3 7 1 2 1 7 4 6 1 7 3 2 3 4 1 6 2 5 2 4 3 4 3 3 3 6 6 9 1 7 4 12 4 2 8 2 3 17 800"/><path d="M80 399.5H320" stroke-dasharray="30 3 5 2 3 3 6 2 3 3 4 1 9 1 4 1 13 1 4 3 2 1 9 3 3 2 2 5 3 2 4 2 5 4 3 1 4 1 2 2 5 5 8 1 3 1 4 2 14 2 8 7 5 1 13 800"/><path d="M80 400.5H317" stroke-dasharray="2 1 11 2 1 1 4 3 8 1 4 1 7 3 2 8 2 1 3 2 2 1 4 1 4 3 7 1 3 1 4 9 6 2 8 1 2 3 2 2 2 1 2 3 3 2 5 1 4 1 2 1 6 4 12 4 2 2 14 2 6 1 6 2 16 800"/><path d="M78 401.5H323" stroke-dasharray="14 2 2 1 1 1 6 4 7 1 5 1 3 4 2 3 6 2 2 5 2 2 5 1 9 1 6 11 6 2 3 1 7 3 11 1 2 1 8 8 2 6 13 10 13 6 1 3 5 1 3 1 14 3 2 800"/><path d="M77 402.5H323" stroke-dasharray="19 3 17 1 5 8 2 3 6 6 5 2 9 3 4 2 2 1 2 3 5 2 2 1 3 3 2 1 2 2 6 1 6 2 4 2 2 1 5 5 7 2 8 5 2 1 2 2 2 3 2 2 3 2 5 2 4 3 3 3 3 1 2 1 8 1 7 800"/><path d="M76 403.5H326" stroke-dasharray="19 1 8 1 11 3 2 7 4 4 6 5 18 3 2 2 2 1 2 3 5 2 2 1 2 3 3 1 2 1 4 1 2 1 2 2 2 1 2 1 2 5 3 5 10 1 2 1 4 3 2 1 2 1 2 2 2 8 2 3 4 2 4 1 5 3 4 5 4 4 4 2 3 800"/><path d="M76 404.5H327" stroke-dasharray="2 3 15 1 3 1 13 6 4 1 2 1 11 1 7 4 14 5 4 12 3 1 3 2 3 2 5 1 1 1 1 3 4 1 5 13 3 4 7 1 3 2 8 1 2 5 5 2 7 2 3 4 3 3 4 4 6 2 6 1 4 800"/><path d="M75 405.5H328" stroke-dasharray="2 2 17 1 19 3 5 1 12 2 2 1 5 2 2 1 11 5 6 1 2 9 10 4 4 4 2 2 10 2 3 3 2 4 2 3 3 1 4 4 4 1 5 1 2 1 3 1 14 5 3 2 2 2 6 3 2 2 3 1 12 800"/><path d="M73 406.5H328" stroke-dasharray="10 2 27 2 11 1 2 1 3 1 4 2 7 2 3 1 7 1 3 1 2 2 5 1 3 1 2 6 5 1 4 4 7 1 2 2 3 1 2 1 3 2 3 3 3 3 2 3 8 1 2 1 2 5 4 3 3 4 10 5 5 4 7 7 3 1 2 1 2 1 6 800"/><path d="M73 407.5H329" stroke-dasharray="10 1 14 4 2 1 3 2 2 1 12 1 2 1 3 5 2 1 2 2 2 1 6 1 5 2 2 1 2 1 13 2 2 1 2 1 3 2 2 5 9 2 4 2 2 12 2 2 3 2 2 1 2 2 5 4 2 2 4 3 3 2 8 2 2 4 3 1 11 1 2 6 2 2 5 2 6 800"/><path d="M73 408.5H330" stroke-dasharray="5 1 8 1 10 4 2 1 3 5 2 1 2 1 5 5 5 3 2 1 2 2 2 1 2 1 3 1 5 2 2 4 7 2 3 1 4 1 4 1 2 1 2 2 2 1 4 1 4 2 4 1 5 9 3 2 7 2 6 1 4 1 2 2 4 1 4 1 10 3 2 2 11 6 2 5 5 1 4 2 7 800"/><path d="M73 409.5H331" stroke-dasharray="7 1 16 1 2 2 2 3 2 2 2 6 9 3 7 2 7 1 4 1 7 1 2 6 3 3 3 2 2 3 4 1 2 5 2 7 2 4 2 2 5 2 2 3 4 3 5 4 5 2 4 5 3 2 2 1 5 1 5 3 22 5 7 3 2 2 8 800"/><path d="M72 410.5H331" stroke-dasharray="8 1 16 1 2 2 7 1 3 5 3 2 5 1 2 1 6 4 10 1 3 2 3 3 2 1 5 3 2 8 2 3 2 3 2 4 2 3 4 1 3 9 2 3 12 6 2 1 2 9 5 3 5 1 6 2 8 3 18 1 2 4 3 2 8 800"/><path d="M72 411.5H329" stroke-dasharray="5 2 7 1 20 3 7 1 4 2 2 3 7 7 6 9 3 1 4 1 5 1 4 7 2 4 2 3 2 4 2 3 4 1 2 5 9 1 10 3 2 2 7 1 2 5 5 4 13 3 5 1 9 1 2 1 11 3 3 2 6 800"/><path d="M70 412.5H334" stroke-dasharray="5 4 6 1 23 3 12 3 9 2 2 1 5 2 4 6 2 2 2 9 4 7 5 1 2 7 5 4 2 8 5 2 2 1 2 7 2 2 2 2 4 1 2 1 4 2 2 1 2 5 2 1 5 1 11 2 9 1 15 1 4 2 7 1 3 800"/><path d="M68 413.5H334" stroke-dasharray="9 2 5 2 2 2 19 3 4 1 7 1 10 3 8 2 4 1 2 9 7 3 2 3 3 4 3 2 2 4 7 2 4 10 2 6 3 6 3 1 2 4 2 3 5 2 2 1 3 4 2 2 4 1 12 5 3 2 12 1 8 3 10 800"/><path d="M68 414.5H334" stroke-dasharray="4 1 4 2 23 4 8 4 2 1 2 2 2 4 4 2 2 1 2 7 2 2 2 2 2 5 8 2 2 1 6 1 2 5 2 4 2 3 2 2 2 5 3 4 3 6 2 7 5 7 7 6 2 8 7 1 9 3 11 2 2 4 9 5 8 800"/><path d="M66 415.5H336" stroke-dasharray="2 2 2 1 8 1 8 7 5 5 6 20 2 2 5 4 5 2 8 1 2 2 2 2 2 5 6 1 2 10 2 1 2 1 2 2 2 3 5 5 3 4 3 8 4 6 6 6 2 11 6 1 6 3 5 2 6 1 1 4 2 1 5 1 18 800"/><path d="M65 416.5H336" stroke-dasharray="10 2 4 1 11 4 16 7 2 2 2 2 2 2 4 1 5 4 4 4 4 1 5 2 2 12 1 1 2 3 2 2 2 3 2 1 2 1 3 1 4 1 3 8 2 1 2 1 3 1 2 7 3 3 8 6 2 11 2 1 4 2 4 3 4 1 8 6 2 2 4 3 6 3 7 800"/><path d="M65 417.5H334" stroke-dasharray="12 1 15 1 5 3 10 1 4 3 2 2 2 2 2 2 4 2 2 2 2 1 3 5 5 2 2 8 2 1 2 6 1 1 10 1 2 4 10 4 2 3 2 4 2 5 2 5 2 1 15 1 3 10 2 1 2 1 5 1 4 1 2 1 2 2 8 3 2 3 4 2 2 1 7 1 6 800"/><path d="M64 418.5H338" stroke-dasharray="24 1 10 5 5 4 5 2 2 2 6 1 5 2 2 2 2 1 3 5 4 13 5 3 2 3 4 2 9 2 3 2 4 1 6 1 4 6 4 1 2 5 3 3 2 1 2 2 9 10 5 1 2 1 7 1 5 4 4 1 2 2 9 2 2 1 7 1 5 3 2 800"/><path d="M63 419.5H338" stroke-dasharray="19 1 6 1 19 5 4 2 2 2 9 1 2 2 2 1 3 2 2 2 2 1 4 7 2 2 2 1 4 2 3 8 4 1 2 1 2 9 2 1 9 8 4 1 2 6 2 2 1 1 1 6 3 1 2 7 4 1 6 4 3 1 6 6 4 1 2 4 6 1 9 4 10 800"/><path d="M62 420.5H340" stroke-dasharray="9 3 8 1 2 2 2 1 15 2 2 5 3 3 14 3 12 1 2 1 3 8 6 1 3 1 5 8 5 14 4 3 4 2 2 1 2 2 3 1 4 3 5 3 1 7 2 6 3 1 4 1 2 1 3 8 6 1 3 2 3 7 7 1 9 5 11 800"/><path d="M62 421.5H340" stroke-dasharray="5 2 2 3 10 1 3 2 3 1 2 1 2 4 8 3 3 3 6 1 7 3 4 1 8 3 3 4 2 2 4 2 7 1 2 4 4 1 4 16 2 1 2 2 2 2 2 1 2 2 3 1 4 3 6 1 5 1 2 1 2 3 2 1 4 2 2 1 6 9 3 2 4 2 3 7 9 2 2 1 2 6 11 800"/><path d="M61 422.5H340" stroke-dasharray="6 2 3 3 5 2 2 1 3 2 6 1 3 1 6 2 2 3 9 1 2 2 6 4 12 4 4 2 3 1 4 2 2 1 2 3 2 4 8 4 2 14 2 4 2 1 2 15 2 1 2 2 5 1 2 4 4 2 3 2 2 1 3 1 2 9 4 1 5 1 2 1 2 3 2 1 13 2 3 2 12 800"/><path d="M61 423.5H340" stroke-dasharray="5 1 5 1 7 1 3 2 4 1 5 1 3 1 2 1 3 7 7 3 2 1 5 8 20 1 2 2 2 1 2 2 9 4 5 6 2 20 2 1 1 3 2 2 1 2 2 5 5 1 5 1 2 1 2 1 2 4 2 3 2 1 2 5 2 4 9 1 2 4 4 1 4 2 4 1 2 1 7 1 3 1 4 1 4 800"/><path d="M61 424.5H343" stroke-dasharray="5 1 18 1 6 1 9 6 2 3 7 4 2 1 2 1 2 5 2 1 2 3 4 1 4 4 2 1 2 1 6 2 10 3 5 3 6 12 2 8 1 3 3 4 4 3 7 1 3 1 2 1 5 2 3 11 8 1 4 1 2 3 2 4 9 2 7 1 5 1 10 2 6 800"/><path d="M60 425.5H343" stroke-dasharray="14 2 10 1 5 2 8 6 2 3 13 1 2 6 5 5 6 2 2 9 5 2 7 2 2 1 2 5 2 1 6 6 5 1 2 3 2 8 2 6 2 1 4 3 5 1 2 4 8 11 8 1 2 8 5 4 4 1 3 1 10 3 2 2 2 2 10 800"/><path d="M60 426.5H342" stroke-dasharray="30 2 4 1 6 1 7 2 2 2 9 1 2 3 5 1 2 5 6 2 5 4 2 3 2 2 7 5 2 2 2 1 2 4 2 7 5 6 2 19 4 5 2 2 2 5 5 6 2 1 2 4 4 3 2 1 2 2 11 6 3 1 4 1 3 10 9 1 2 800"/><path d="M62 427.5H344" stroke-dasharray="7 3 10 2 4 1 2 1 4 3 12 2 3 6 3 3 2 2 3 3 2 1 2 2 2 1 2 4 4 1 1 2 2 2 3 2 7 4 2 2 3 2 4 1 2 18 4 7 2 1 3 4 2 1 2 8 2 1 2 1 4 3 1 4 5 3 7 1 5 2 6 1 6 2 4 1 14 5 4 2 8 800"/><path d="M61 428.5H345" stroke-dasharray="8 1 12 2 4 1 2 3 4 2 10 1 5 2 2 2 3 1 4 8 2 1 2 2 7 2 3 9 3 2 8 3 2 2 3 2 4 2 2 12 2 3 4 6 3 1 3 2 4 1 2 8 4 3 1 2 2 2 1 4 6 1 9 1 5 3 2 2 6 2 7 2 13 1 16 800"/><path d="M58 429.5H345" stroke-dasharray="2 1 12 1 3 2 5 1 3 1 26 3 2 2 2 2 4 1 2 5 3 1 2 1 3 2 2 2 3 1 1 4 5 2 2 2 2 1 2 12 2 4 2 12 4 6 2 3 4 5 2 7 3 2 1 1 3 3 6 3 2 1 6 3 7 2 19 3 2 1 4 2 10 1 16 800"/><path d="M56 430.5H347" stroke-dasharray="17 1 3 3 4 1 2 1 27 3 3 1 3 1 2 1 5 2 11 1 5 3 1 5 4 1 2 1 3 7 2 15 2 10 2 2 2 5 3 4 3 14 3 4 1 1 7 1 14 3 3 3 2 1 2 1 11 2 3 3 2 1 4 1 1 1 4 2 3 1 3 1 10 2 2 800"/><path d="M56 431.5H347" stroke-dasharray="20 1 2 2 3 1 27 6 7 1 5 1 2 1 12 1 5 3 2 4 3 2 2 2 4 5 2 2 2 7 2 2 2 10 4 3 2 2 2 1 4 6 2 8 4 2 3 1 2 1 3 3 13 3 2 4 2 1 2 1 2 1 7 2 2 5 3 1 2 1 1 2 4 2 3 2 2 2 9 2 2 800"/><path d="M56 432.5H345" stroke-dasharray="5 1 9 2 2 2 11 2 6 1 15 6 7 2 7 1 2 2 2 1 8 1 4 1 2 5 2 5 5 9 2 5 5 1 2 6 2 4 2 3 2 4 5 6 2 8 4 2 2 2 2 7 6 2 5 3 4 1 2 2 2 4 2 1 3 2 7 2 5 5 4 1 3 2 2 3 10 800"/><path d="M54 433.5H348" stroke-dasharray="18 1 2 4 7 4 9 3 10 1 2 2 7 4 6 1 2 5 2 2 4 1 4 15 2 11 2 6 2 1 2 2 3 4 2 2 2 4 2 1 2 2 2 1 2 2 2 2 2 4 2 3 3 2 2 14 1 1 5 1 2 1 6 1 2 2 6 3 2 3 15 1 3 2 2 6 3 2 10 1 2 800"/><path d="M53 434.5H348" stroke-dasharray="11 2 9 4 9 4 7 3 7 1 5 2 6 2 9 5 3 1 3 2 4 4 2 1 2 1 10 7 2 2 4 3 3 5 4 7 2 4 2 1 2 4 2 3 9 1 2 10 2 2 3 8 1 1 3 5 7 4 6 2 5 1 19 1 2 4 2 2 4 1 9 1 2 800"/><path d="M53 435.5H345" stroke-dasharray="13 2 7 3 11 2 7 1 6 1 2 2 6 1 2 5 5 1 7 2 7 4 2 3 3 1 15 5 2 4 7 7 4 1 2 3 2 1 2 8 2 1 1 5 2 1 4 2 3 4 2 2 2 1 4 11 2 1 8 1 5 2 5 2 11 1 2 1 10 1 4 1 4 1 4 2 8 800"/><path d="M54 436.5H345" stroke-dasharray="4 1 7 1 6 2 2 1 11 2 7 1 6 1 2 3 5 1 3 2 7 1 16 1 4 3 3 2 7 5 3 10 6 1 2 6 4 1 2 3 2 1 2 8 1 1 1 4 4 1 2 4 4 3 2 1 3 1 2 7 2 7 6 2 6 2 5 4 2 1 2 1 4 1 12 3 7 1 3 2 9 800"/><path d="M54 437.5H348" stroke-dasharray="23 2 6 7 3 1 8 1 4 2 4 2 3 1 7 3 5 1 15 2 2 3 7 3 6 4 2 3 4 3 2 16 2 1 2 12 1 2 4 3 2 3 3 6 3 10 2 2 2 5 2 4 6 2 2 1 2 4 2 2 6 1 8 1 3 2 11 1 4 1 9 800"/><path d="M51 438.5H348" stroke-dasharray="5 2 28 8 2 1 5 1 7 2 7 2 6 4 2 1 3 1 6 1 7 1 2 8 4 2 2 2 2 2 4 14 2 1 2 1 2 4 2 27 2 10 2 1 2 6 2 1 2 3 2 4 4 2 4 1 2 3 6 2 2 2 2 7 6 1 15 2 3 1 10 800"/><path d="M51 439.5H351" stroke-dasharray="5 2 28 8 2 1 5 1 8 1 7 2 6 3 7 2 5 1 10 8 4 10 2 9 2 5 2 1 2 1 2 4 2 39 2 5 2 2 2 1 2 9 4 2 6 4 10 9 4 2 2 3 12 1 3 1 9 4 2 800"/><path d="M53 440.5H351" stroke-dasharray="2 1 27 11 6 5 7 1 7 2 16 3 2 4 8 4 2 1 3 12 2 9 2 12 2 8 1 1 1 3 2 15 2 1 2 5 2 1 2 5 2 18 2 2 6 4 4 2 2 5 2 2 4 2 15 1 2 2 3 1 2 2 5 2 4 800"/><path d="M49 441.5H353" stroke-dasharray="2 1 17 1 2 4 8 3 3 5 5 2 4 1 2 1 11 1 7 1 4 1 3 1 5 5 6 4 5 1 2 10 2 23 4 1 2 4 1 2 4 3 2 5 3 2 5 5 2 12 2 7 3 4 4 2 4 2 2 1 4 1 2 3 4 2 3 3 17 7 2 4 3 2 6 800"/><path d="M49 442.5H353" stroke-dasharray="12 1 5 1 4 4 16 2 6 2 4 1 2 1 4 2 22 1 8 1 5 5 5 2 2 5 2 13 2 15 2 1 2 7 4 3 2 5 3 2 3 6 4 6 2 3 2 7 3 5 9 2 2 1 5 3 6 1 4 5 2 1 2 1 2 2 7 2 5 4 2 1 8 800"/><path d="M49 443.5H353" stroke-dasharray="12 1 5 1 4 4 5 2 9 2 2 1 2 3 2 3 4 6 10 1 1 1 9 1 12 6 6 8 2 1 3 9 2 17 2 10 2 3 3 4 2 10 6 6 2 2 2 2 2 7 2 1 3 1 6 5 2 1 3 3 2 1 9 10 2 2 7 2 4 4 2 1 9 800"/><path d="M48 444.5H354" stroke-dasharray="5 1 13 2 9 4 3 5 2 3 4 1 6 3 7 1 4 1 5 4 3 1 4 2 5 1 2 1 2 1 3 1 2 3 4 9 3 7 2 19 2 1 2 12 3 3 3 10 2 2 3 9 2 2 2 4 5 1 3 7 1 2 7 9 7 6 2 2 11 2 4 4 13 800"/><path d="M48 445.5H355" stroke-dasharray="4 1 15 2 17 1 2 4 14 1 7 1 3 2 5 4 3 2 4 1 4 1 2 2 2 1 6 2 5 13 2 2 4 7 2 13 2 12 3 3 3 12 2 1 2 14 2 3 5 6 2 6 2 1 4 5 2 2 7 6 8 1 9 1 2 4 10 1 3 800"/><path d="M48 446.5H355" stroke-dasharray="8 3 2 1 6 2 5 1 11 1 3 3 6 2 13 2 3 1 3 1 15 2 2 2 6 2 4 3 3 8 2 5 2 1 4 8 2 33 3 2 4 6 2 14 2 1 3 6 4 1 4 2 1 1 2 1 7 1 2 1 2 3 6 7 6 2 14 1 3 1 8 1 2 800"/><path d="M48 447.5H356" stroke-dasharray="3 1 2 2 7 4 8 1 11 1 4 3 9 2 9 2 3 1 2 3 1 1 2 1 5 2 2 4 2 2 3 2 5 10 2 1 3 8 4 27 2 2 2 15 4 3 2 1 2 4 2 8 3 1 2 6 4 1 3 5 2 1 10 4 8 1 2 3 6 1 2 1 13 1 9 1 2 2 2 800"/><path d="M46 448.5H356" stroke-dasharray="2 3 2 2 8 4 8 1 6 1 4 1 6 2 6 2 2 4 10 1 2 4 1 1 1 1 4 1 4 2 4 7 2 7 2 1 2 1 2 1 2 12 2 10 4 6 2 5 1 2 2 10 2 8 4 1 2 1 5 9 2 3 8 3 3 8 6 1 2 5 3 2 6 3 3 3 11 2 4 2 6 7 2 800"/><path d="M46 449.5H356" stroke-dasharray="2 1 13 3 2 1 2 1 3 3 5 3 5 1 3 3 4 3 2 7 7 1 4 4 1 6 2 1 2 1 2 1 2 3 2 1 2 6 3 1 2 4 2 12 2 10 4 6 2 20 2 8 2 6 3 11 2 1 10 3 3 2 2 1 7 3 2 1 2 1 2 1 8 3 2 1 2 2 2 1 2 1 6 2 2 3 2 1 4 3 2 1 2 800"/><path d="M45 450.5H355" stroke-dasharray="2 2 6 1 3 6 2 1 2 1 5 1 3 1 2 2 5 1 2 4 5 1 2 1 2 1 2 1 2 3 2 4 2 2 2 4 2 1 5 4 2 1 6 7 2 5 2 1 2 1 4 3 3 17 4 25 2 5 2 7 2 16 4 2 3 2 2 1 2 2 2 1 3 1 8 1 5 1 8 2 3 1 2 4 4 1 5 1 5 1 2 1 4 3 4 800"/><path d="M45 451.5H356" stroke-dasharray="2 1 2 1 8 2 4 2 4 1 5 1 5 1 2 2 2 7 5 1 2 1 2 1 2 1 3 7 2 3 2 4 3 2 2 8 6 7 2 5 2 4 4 3 3 17 4 12 1 12 2 5 2 7 3 18 5 3 2 9 1 3 6 4 5 5 2 2 4 6 4 1 17 7 3 800"/><path d="M44 452.5H357" stroke-dasharray="6 1 3 1 1 2 2 1 21 2 2 1 2 5 2 2 4 11 2 4 2 1 2 9 3 10 2 1 3 27 1 34 2 2 1 25 5 10 2 6 3 23 3 3 6 5 3 2 3 4 5 2 16 2 2 3 5 800"/><path d="M44 453.5H357" stroke-dasharray="4 2 3 1 1 1 4 1 6 4 9 4 2 1 15 8 3 6 2 2 2 5 2 1 4 6 5 28 2 2 1 22 2 9 2 20 2 6 4 8 1 3 1 1 2 10 4 8 2 1 2 8 7 1 6 2 2 1 2 2 27 3 5 800"/><path d="M44 454.5H357" stroke-dasharray="9 3 6 3 2 4 2 1 6 2 4 2 6 2 6 3 2 3 3 4 2 1 2 1 2 1 2 2 2 3 2 6 5 26 4 25 2 31 2 3 2 13 1 3 1 1 2 10 4 6 4 1 2 10 5 1 5 3 2 1 2 1 8 1 4 1 14 3 5 800"/><path d="M43 455.5H357" stroke-dasharray="11 1 4 1 2 3 2 3 11 1 4 2 2 1 10 1 5 2 5 3 2 1 2 4 3 1 2 14 2 4 2 6 2 12 2 3 2 1 2 23 2 9 2 11 2 8 2 2 2 4 2 18 2 7 6 1 2 3 2 2 2 4 4 15 2 2 2 3 4 2 14 1 6 800"/><path d="M43 456.5H357" stroke-dasharray="11 1 4 6 2 1 16 3 4 2 4 2 2 1 5 2 5 5 4 4 3 16 4 2 2 6 2 15 7 7 1 15 2 8 3 11 2 2 2 8 2 1 2 1 2 1 2 12 2 1 2 7 2 1 2 2 8 1 2 2 2 1 3 9 2 4 13 2 11 1 2 1 6 800"/><path d="M42 457.5H359" stroke-dasharray="2 2 4 5 4 6 15 1 4 1 5 1 5 7 2 1 11 1 5 2 6 2 2 7 2 3 2 3 2 7 2 13 2 1 2 9 1 25 2 7 3 4 5 10 5 1 2 1 2 5 2 2 2 5 2 10 5 1 5 2 2 1 2 3 2 4 3 5 10 4 8 2 4 1 8 800"/><path d="M42 458.5H359" stroke-dasharray="2 2 8 1 4 5 2 1 17 1 1 1 1 2 7 3 2 2 14 4 14 1 2 2 4 7 3 7 2 13 1 10 5 20 2 10 4 4 2 1 2 3 5 2 3 6 2 5 2 4 2 3 2 10 2 1 2 3 2 3 2 1 4 1 2 2 4 6 5 1 4 4 9 1 2 3 8 800"/><path d="M42 459.5H361" stroke-dasharray="6 1 5 1 2 7 2 1 16 7 5 4 3 3 4 1 2 11 3 6 2 3 2 2 2 7 4 18 2 10 2 2 5 20 2 26 5 7 3 14 2 7 4 4 2 5 2 8 3 5 4 2 2 5 7 3 6 1 6 2 3 4 4 800"/><path d="M41 460.5H361" stroke-dasharray="6 3 2 3 2 3 3 7 3 4 7 4 3 6 8 2 1 3 1 1 2 5 6 7 2 3 2 1 2 7 5 12 2 3 2 5 7 18 3 3 2 17 2 11 2 9 4 9 2 2 3 4 6 9 6 1 2 2 2 5 2 2 2 1 7 2 2 7 13 1 4 4 4 800"/><path d="M41 461.5H361" stroke-dasharray="5 4 3 1 2 4 4 1 4 1 3 3 8 4 3 2 8 1 3 6 4 5 4 9 2 3 4 5 10 10 2 10 6 19 3 3 2 17 2 1 2 4 2 8 2 3 4 3 2 4 2 2 5 2 5 7 2 1 6 1 3 1 2 3 5 3 1 2 6 7 2 2 16 1 8 800"/><path d="M42 462.5H361" stroke-dasharray="4 5 2 1 5 1 12 2 4 3 2 5 4 1 5 1 10 2 6 6 2 2 2 5 2 1 5 5 4 4 2 4 5 2 2 9 2 8 4 14 3 7 2 13 2 4 2 7 3 6 2 2 2 7 2 2 2 4 3 7 3 3 18 9 9 1 2 3 4 1 10 1 8 800"/><path d="M41 463.5H361" stroke-dasharray="5 1 2 6 8 1 7 3 2 2 2 1 2 2 3 2 3 2 3 2 9 6 2 1 2 3 2 2 2 5 2 1 2 7 4 11 5 2 2 4 2 13 4 5 2 7 3 7 4 13 2 8 2 1 4 5 2 4 2 5 4 3 3 4 2 5 2 5 2 3 2 1 8 1 3 4 12 1 2 1 3 2 7 5 2 1 4 800"/><path d="M41 464.5H362" stroke-dasharray="9 6 2 1 21 1 3 1 3 1 4 2 2 3 5 2 5 3 2 1 2 17 2 7 2 14 2 4 2 4 2 11 2 9 2 8 2 9 2 13 2 8 2 1 4 5 2 4 2 4 2 1 2 3 3 2 4 5 2 8 3 4 6 1 2 3 7 1 2 1 3 1 2 7 6 5 8 800"/><path d="M39 465.5H363" stroke-dasharray="2 1 12 4 9 1 13 1 12 7 3 3 8 10 3 1 3 5 2 23 2 4 2 5 2 10 2 22 2 6 2 8 2 16 4 8 2 5 3 6 2 1 2 1 2 7 2 2 2 3 4 1 2 2 6 5 14 3 2 5 2 2 6 2 8 800"/><path d="M39 466.5H363" stroke-dasharray="15 1 5 1 5 1 4 3 8 1 14 4 3 3 9 9 9 1 3 24 2 9 4 3 4 15 2 10 2 13 2 1 2 7 2 9 2 8 2 5 3 6 5 6 2 2 2 2 9 1 2 6 2 2 2 1 14 3 2 6 2 1 7 2 7 800"/><path d="M39 467.5H364" stroke-dasharray="20 3 4 1 2 6 7 5 2 1 7 3 4 3 5 2 2 10 3 1 4 1 3 6 2 16 4 7 4 3 4 15 2 25 2 10 2 3 2 21 1 1 4 4 5 5 2 2 2 4 12 8 2 5 2 3 5 1 12 1 4 1 2 2 8 800"/><path d="M38 468.5H364" stroke-dasharray="21 3 5 4 14 2 10 3 2 1 2 3 6 11 3 2 2 3 3 6 2 7 1 10 2 9 2 1 4 20 2 17 2 5 3 8 2 2 2 12 2 6 1 7 2 2 4 5 2 2 2 1 5 2 9 4 2 1 6 1 13 2 6 3 4 2 4 2 5 800"/><path d="M38 469.5H362" stroke-dasharray="9 3 6 1 2 1 4 1 2 4 15 2 10 2 2 1 2 5 5 4 3 3 2 1 2 6 2 15 3 13 4 5 4 5 2 13 2 16 3 5 3 8 2 16 2 14 2 11 6 1 4 5 3 2 3 1 11 1 14 1 5 5 2 3 9 800"/><path d="M38 470.5H362" stroke-dasharray="11 1 9 1 4 7 9 2 5 1 10 1 3 2 2 2 2 1 4 2 5 6 2 9 2 13 2 3 2 8 4 14 2 31 2 6 2 13 1 6 1 9 2 20 2 3 3 4 3 6 2 2 3 1 2 1 6 3 10 2 2 1 2 4 7 1 10 800"/><path d="M37 471.5H362" stroke-dasharray="12 2 11 1 3 1 9 2 10 2 4 1 2 2 7 2 17 11 2 1 1 1 1 3 4 10 2 11 2 12 2 42 2 5 2 10 2 8 3 3 2 4 2 9 2 1 2 1 2 4 2 5 2 1 4 1 2 2 8 2 10 6 2 3 18 800"/><path d="M37 472.5H362" stroke-dasharray="3 1 10 2 24 1 4 2 6 1 2 2 2 2 6 1 2 2 8 1 6 4 2 2 2 1 2 5 1 1 4 3 2 12 2 4 2 12 2 23 2 17 2 5 2 8 2 10 2 4 2 4 2 7 2 3 2 1 2 3 4 1 2 1 7 1 2 2 8 1 3 1 7 2 6 1 4 1 3 1 8 1 2 800"/><path d="M38 473.5H364" stroke-dasharray="2 1 10 1 17 1 3 1 3 2 4 1 6 1 2 2 2 2 6 1 11 1 1 5 2 3 2 1 1 1 1 7 2 8 2 12 2 9 2 7 2 18 2 3 2 24 2 1 2 5 2 31 2 11 4 1 2 1 3 10 10 4 5 1 6 2 7 2 5 6 2 800"/><path d="M40 474.5H364" stroke-dasharray="6 2 3 1 2 1 18 1 16 1 2 3 2 1 6 2 7 2 1 7 6 25 2 20 2 8 1 18 2 5 2 22 2 1 2 14 2 13 1 7 3 12 5 1 4 1 2 7 5 1 2 6 2 4 4 1 2 1 6 3 2 2 2 5 2 800"/><path d="M39 475.5H364" stroke-dasharray="15 1 13 1 21 6 9 3 7 1 3 7 4 2 2 8 2 1 2 9 1 25 2 29 2 25 2 13 3 12 1 7 7 2 2 5 5 1 7 8 4 9 2 4 7 2 7 2 2 1 3 3 3 800"/><path d="M37 476.5H365" stroke-dasharray="11 1 26 2 5 1 7 1 2 2 8 5 2 3 5 14 2 8 7 1 2 4 1 18 2 5 2 24 2 30 2 13 2 1 2 12 2 4 2 2 3 2 2 6 3 2 2 1 4 1 2 5 3 2 3 5 2 2 10 5 7 1 4 1 5 800"/><path d="M37 477.5H365" stroke-dasharray="11 3 21 3 7 1 10 2 5 1 3 10 2 3 2 8 2 11 4 1 2 1 2 3 2 3 2 13 2 31 2 8 2 35 2 1 2 12 2 12 2 1 2 5 3 4 4 1 3 2 3 2 5 5 2 2 4 2 5 4 5 1 6 1 5 800"/><path d="M37 478.5H367" stroke-dasharray="11 1 25 1 3 1 13 6 2 2 2 1 2 10 5 7 2 3 2 6 2 16 2 31 2 23 2 22 2 1 2 8 2 26 2 1 1 3 1 5 3 1 2 3 2 1 3 1 5 1 5 1 2 3 2 7 5 4 2 1 13 1 3 800"/><path d="M36 479.5H367" stroke-dasharray="10 3 25 1 16 5 2 3 2 2 2 10 2 1 2 2 2 2 2 4 4 2 2 7 2 36 2 4 2 31 2 14 2 1 2 4 2 15 2 13 2 1 1 9 2 2 2 5 3 2 5 2 2 3 2 3 2 1 13 1 2 2 11 1 5 800"/><path d="M35 480.5H367" stroke-dasharray="12 2 5 2 18 1 7 1 8 3 4 1 8 6 2 9 2 2 4 3 3 2 2 7 2 4 2 30 2 34 2 1 3 22 2 15 2 13 2 1 1 1 1 12 2 1 5 3 8 1 2 6 2 1 6 3 11 1 5 2 7 800"/><path d="M35 481.5H367" stroke-dasharray="7 1 4 3 5 2 4 1 13 4 3 1 8 3 4 1 2 2 4 6 2 15 2 3 3 4 2 7 2 1 3 23 2 16 4 21 2 2 2 36 2 1 2 14 2 10 2 3 2 1 11 1 12 1 2 1 11 2 14 1 2 2 3 800"/><path d="M35 482.5H368" stroke-dasharray="2 2 3 1 2 2 15 1 12 2 2 1 3 1 8 1 5 4 4 3 2 19 2 3 2 5 2 7 2 1 2 1 2 21 2 8 2 6 5 2 2 19 2 8 2 10 2 4 2 9 2 1 2 3 4 1 4 2 2 2 2 1 2 2 5 5 2 1 6 5 10 3 12 1 2 1 2 1 8 4 5 800"/><path d="M35 483.5H368" stroke-dasharray="3 3 21 1 9 1 2 1 16 1 5 4 4 3 3 3 2 13 2 10 2 13 2 5 2 14 2 8 2 9 2 2 2 11 1 7 2 8 2 10 2 4 2 17 4 1 4 2 2 2 2 1 2 2 2 1 4 2 3 2 4 4 4 3 2 1 2 2 5 2 6 1 2 1 7 2 3 3 5 800"/><path d="M35 484.5H368" stroke-dasharray="3 1 12 1 8 1 5 2 4 1 2 1 22 4 2 3 5 1 6 23 2 9 2 9 2 33 2 7 2 5 4 4 2 5 2 19 2 2 2 16 2 9 2 10 2 2 11 2 2 2 4 3 9 1 2 2 4 5 5 1 2 2 3 3 5 800"/><path d="M35 485.5H368" stroke-dasharray="8 2 3 1 2 1 7 2 32 1 2 6 4 1 5 1 2 2 2 34 2 22 2 20 2 7 2 5 4 4 4 2 3 12 2 5 2 2 2 8 2 2 2 11 2 1 2 1 2 5 3 1 2 1 2 1 4 4 2 2 4 5 6 1 3 2 4 1 2 2 6 1 4 7 3 800"/><path d="M35 486.5H369" stroke-dasharray="16 1 7 1 32 12 4 1 3 10 2 4 3 28 3 15 2 3 2 6 2 17 2 6 2 6 2 2 2 9 2 1 3 19 2 2 2 11 2 1 5 5 6 1 8 7 3 2 2 4 9 1 4 1 2 3 5 1 7 4 4 800"/><path d="M34 487.5H369" stroke-dasharray="3 1 13 1 13 3 8 1 9 1 6 5 2 2 6 2 5 7 2 4 3 20 2 6 3 3 2 15 2 6 2 17 2 18 2 9 2 1 2 5 2 4 2 4 2 15 2 4 5 6 5 1 8 3 2 1 4 1 3 2 4 1 8 1 10 1 2 4 4 4 4 800"/><path d="M33 488.5H368" stroke-dasharray="3 2 2 1 2 1 3 1 3 1 13 3 11 2 14 3 2 2 7 2 4 2 2 1 2 12 2 2 4 7 4 6 2 4 3 23 2 36 2 19 2 3 3 4 2 15 2 4 4 1 2 3 3 7 6 2 2 1 4 1 3 1 3 2 9 3 11 3 3 4 5 800"/><path d="M33 489.5H368" stroke-dasharray="2 6 11 1 6 1 3 2 2 1 11 6 11 1 12 1 5 2 2 1 2 9 2 1 2 1 5 7 2 15 2 1 2 1 2 17 2 24 2 36 2 7 2 19 7 3 2 6 4 2 2 1 2 2 4 2 5 3 9 1 4 2 7 1 11 1 2 800"/><path d="M33 490.5H368" stroke-dasharray="4 4 7 2 12 2 3 1 11 1 3 2 11 1 8 1 6 5 2 1 2 9 2 4 2 11 1 18 2 1 2 43 2 7 3 35 2 8 2 13 2 8 2 1 4 2 6 2 9 4 2 2 9 3 2 1 4 2 3 2 6 1 2 800"/><path d="M34 491.5H369" stroke-dasharray="3 1 2 1 7 3 3 4 2 2 14 1 6 1 8 5 2 1 2 5 3 9 2 29 1 5 2 34 2 29 1 2 4 44 2 8 3 1 5 6 2 1 5 1 7 1 6 7 11 2 2 1 2 1 4 2 3 6 2 2 2 800"/><path d="M37 492.5H369" stroke-dasharray="14 2 2 4 17 1 4 1 14 1 2 1 2 1 6 10 2 2 2 2 2 27 2 7 1 14 2 2 2 6 2 2 1 26 2 3 2 28 2 18 2 2 14 3 2 2 4 2 2 2 4 1 2 4 2 5 10 1 2 5 5 1 2 3 2 1 3 1 2 800"/><path d="M36 493.5H370" stroke-dasharray="15 2 2 2 19 1 3 1 7 3 10 2 5 16 2 1 2 9 2 1 2 4 2 5 3 7 2 14 2 2 2 19 2 21 2 1 2 19 3 3 2 13 7 2 2 1 5 3 3 3 3 1 2 3 1 5 3 1 2 4 2 4 6 3 4 2 2 2 5 3 5 2 6 800"/><path d="M33 494.5H370" stroke-dasharray="5 1 14 4 3 1 5 2 3 1 4 1 3 1 23 2 2 1 4 11 2 12 2 1 2 4 2 5 3 27 2 19 2 19 4 1 6 5 2 8 3 7 2 9 5 3 2 12 2 2 3 8 2 2 2 3 2 1 2 5 7 3 4 2 3 1 6 1 5 2 7 800"/><path d="M33 495.5H369" stroke-dasharray="5 2 14 2 4 1 4 1 4 2 4 6 14 2 6 2 2 2 3 58 2 27 2 9 2 13 3 4 4 5 2 3 2 3 2 8 2 17 2 12 4 1 2 2 2 4 2 2 2 2 3 1 5 2 4 1 2 1 5 1 2 1 2 2 5 1 5 1 7 800"/><path d="M36 496.5H370" stroke-dasharray="3 3 4 2 6 2 4 1 10 1 4 2 8 1 8 3 2 2 2 10 2 9 2 43 3 7 2 18 4 5 6 1 2 2 1 2 2 7 1 14 2 19 2 27 2 3 4 3 3 2 2 2 3 2 6 3 7 1 2 1 2 1 2 2 2 4 5 1 2 4 2 800"/><path d="M36 497.5H370" stroke-dasharray="3 1 6 3 11 1 10 1 2 3 10 1 2 1 12 8 1 2 2 9 2 3 2 10 2 14 2 10 2 8 2 10 2 9 1 7 1 2 1 1 2 2 1 2 2 7 3 33 2 5 2 16 2 3 3 1 10 10 4 1 3 2 7 1 8 1 12 7 2 800"/><path d="M35 498.5H369" stroke-dasharray="10 2 10 1 7 1 4 7 3 2 17 1 3 3 6 2 2 4 2 3 2 3 2 10 2 14 2 20 2 8 3 3 2 19 3 10 1 3 1 40 2 16 2 3 3 4 4 13 4 2 4 1 6 2 7 1 12 1 2 3 2 800"/><path d="M33 499.5H369" stroke-dasharray="8 3 2 1 14 2 2 1 3 7 4 2 7 1 11 5 6 3 4 1 2 3 2 53 2 5 2 1 2 3 2 7 3 1 2 4 1 2 1 3 2 7 1 26 2 3 2 29 2 9 5 2 3 9 2 2 11 3 7 3 14 2 2 800"/><path d="M32 500.5H365" stroke-dasharray="4 1 3 4 7 1 8 2 2 1 9 2 5 1 18 1 2 6 4 2 4 4 2 25 2 9 2 14 4 6 5 12 4 2 2 2 1 6 2 1 2 4 2 25 2 3 2 26 2 12 3 3 4 2 2 3 2 4 6 5 2 1 8 2 5 3 6 800"/><path d="M31 501.5H366" stroke-dasharray="10 3 5 1 3 1 5 3 2 1 2 1 7 1 6 1 16 1 1 2 3 1 6 10 2 21 2 2 2 9 2 14 4 5 1 1 3 3 1 7 3 2 1 2 2 1 2 8 2 5 2 10 2 29 2 3 4 3 7 3 2 6 2 1 2 2 5 1 4 1 2 2 9 1 2 1 11 1 5 1 10 800"/><path d="M31 502.5H366" stroke-dasharray="12 4 2 1 3 1 6 1 2 3 2 5 2 2 5 1 8 1 7 3 1 1 6 7 2 27 2 12 2 22 3 1 4 2 2 2 1 2 4 2 5 11 2 17 2 29 3 2 4 3 4 1 1 1 2 1 2 3 8 1 11 1 2 2 4 2 3 1 14 1 5 1 10 800"/><path d="M31 503.5H367" stroke-dasharray="12 4 2 5 6 1 2 3 2 5 8 2 2 2 2 3 8 4 6 7 5 11 2 25 2 28 4 4 1 2 2 2 2 2 3 7 2 53 2 3 2 11 2 6 7 2 3 2 6 1 2 1 2 1 2 1 4 2 4 2 5 3 4 4 9 800"/><path d="M31 504.5H369" stroke-dasharray="8 1 3 3 3 1 2 6 11 1 10 7 2 1 13 3 2 8 2 1 3 11 2 1 2 5 2 4 2 2 2 37 2 1 6 4 2 12 2 40 2 14 4 10 1 4 2 3 6 7 3 1 2 1 2 1 2 1 2 1 5 1 3 4 4 1 5 1 2 3 2 1 7 800"/><path d="M31 505.5H369" stroke-dasharray="8 1 2 3 3 2 5 3 21 7 2 2 9 1 2 11 5 2 2 14 2 2 2 1 2 4 2 2 2 40 2 3 1 60 3 4 2 7 2 11 2 4 2 3 9 4 3 5 5 2 2 2 6 3 10 2 3 2 2 1 4 1 2 800"/><path d="M32 506.5H365" stroke-dasharray="7 1 2 1 12 5 10 1 7 2 2 4 2 1 11 6 2 5 5 1 3 18 2 44 2 6 1 6 1 43 2 15 2 2 5 5 2 9 2 12 4 1 6 8 7 1 3 4 6 1 8 3 8 2 2 800"/><path d="M31 507.5H371" stroke-dasharray="11 1 9 3 2 8 5 1 3 2 6 7 5 1 5 6 4 2 2 2 2 1 4 9 2 3 2 5 2 5 2 33 3 5 1 6 2 39 2 1 2 11 2 6 2 1 5 2 2 5 2 2 2 8 2 9 4 8 2 1 4 1 2 3 8 2 18 4 2 2 2 800"/><path d="M31 508.5H372" stroke-dasharray="7 1 10 1 2 2 7 1 2 1 6 1 2 4 9 3 6 11 3 2 2 7 2 9 2 3 2 2 2 1 2 5 2 27 2 5 2 28 2 13 2 8 2 5 2 7 2 7 7 1 2 6 2 8 2 2 2 2 2 5 4 13 5 3 31 1 2 2 3 800"/><path d="M32 509.5H372" stroke-dasharray="21 1 7 1 9 2 2 3 11 1 2 2 2 1 2 3 7 14 2 2 4 10 2 12 2 21 4 21 2 12 2 2 2 9 2 15 2 4 2 1 2 7 2 6 2 5 2 2 2 5 2 5 3 5 2 13 2 1 4 4 2 1 8 1 5 1 13 4 3 800"/><path d="M32 510.5H372" stroke-dasharray="2 1 10 3 2 1 2 1 2 1 2 5 3 1 3 1 3 1 2 2 5 2 2 1 2 5 2 3 5 3 2 2 4 5 3 1 4 24 2 12 2 7 2 23 2 16 2 3 2 27 2 1 2 1 2 3 4 4 2 6 2 2 2 12 4 13 4 2 2 1 8 1 2 1 10 4 13 3 4 800"/><path d="M32 511.5H372" stroke-dasharray="2 3 2 1 5 3 8 1 5 1 2 1 5 1 6 2 10 7 2 4 4 3 2 2 4 6 1 1 1 2 2 10 2 26 2 5 2 23 2 23 2 26 2 2 2 1 2 3 4 4 1 1 1 1 2 2 4 10 2 2 6 6 1 1 9 2 13 1 8 3 2 11 2 3 4 800"/><path d="M31 512.5H372" stroke-dasharray="4 1 9 1 9 3 4 1 2 1 6 2 4 2 3 2 5 7 2 2 3 1 4 3 4 2 3 4 1 2 2 11 2 20 2 11 2 14 2 7 2 37 2 12 2 3 2 17 2 2 4 5 1 3 3 2 2 2 2 2 5 1 3 1 5 2 4 3 6 5 4 1 4 3 2 3 1 6 2 1 2 800"/><path d="M31 513.5H372" stroke-dasharray="4 1 9 1 8 3 6 3 8 1 3 7 2 2 2 7 6 3 4 1 2 4 3 7 1 1 1 32 2 5 2 20 2 40 2 4 2 7 2 8 2 12 4 5 4 5 2 1 2 7 2 3 2 6 6 1 2 1 2 4 7 4 4 1 4 3 3 1 2 3 8 800"/><path d="M31 514.5H372" stroke-dasharray="5 1 8 3 8 1 8 1 3 1 8 1 4 2 2 2 2 5 5 4 2 1 3 1 2 4 2 1 3 4 1 23 2 16 2 12 2 18 2 13 2 13 2 13 6 8 2 8 2 8 3 8 2 7 3 10 4 3 2 1 2 4 7 2 2 2 2 2 2 2 2 1 2 1 4 1 8 800"/><path d="M31 515.5H369" stroke-dasharray="6 1 5 3 10 1 8 1 3 1 8 1 6 10 5 5 2 2 2 1 2 6 4 2 2 10 2 12 2 30 2 18 2 12 3 6 2 22 4 8 2 2 2 6 2 2 2 11 4 3 2 2 3 1 3 8 2 12 6 3 4 4 6 4 3 2 5 800"/><path d="M31 516.5H367" stroke-dasharray="2 1 3 2 4 1 10 3 5 1 2 3 12 1 4 5 2 6 4 18 4 2 2 10 2 1 2 21 2 52 2 7 2 38 3 5 2 2 6 5 4 5 2 2 2 1 1 1 2 2 4 2 2 5 2 2 2 1 5 1 2 3 2 1 9 2 5 2 3 800"/><path d="M31 517.5H367" stroke-dasharray="2 1 2 3 4 1 11 1 6 1 3 1 3 1 9 1 2 1 2 4 4 2 6 6 2 1 2 9 2 8 2 7 2 21 2 30 1 2 2 15 2 50 2 11 5 4 2 11 2 3 2 2 4 4 7 1 12 5 7 1 2 2 4 1 2 1 2 800"/><path d="M30 518.5H371" stroke-dasharray="3 1 7 1 2 1 16 3 6 2 5 4 2 1 2 2 6 2 3 1 4 4 2 1 3 7 2 4 2 3 2 10 2 1 3 14 2 21 2 7 1 2 2 9 3 2 3 6 2 2 2 3 2 15 2 18 2 10 4 4 2 4 2 6 8 1 3 4 7 1 7 1 2 2 2 3 4 3 4 3 5 3 4 800"/><path d="M30 519.5H371" stroke-dasharray="10 1 3 1 16 3 6 1 7 4 4 2 3 1 2 2 2 4 5 2 6 6 2 2 4 15 2 1 3 5 2 21 2 7 2 15 2 4 3 1 3 7 2 2 3 2 2 5 2 6 4 12 2 4 2 10 4 4 2 4 2 1 2 2 2 1 2 2 2 2 2 2 12 1 7 2 2 9 13 3 4 800"/><path d="M33 520.5H370" stroke-dasharray="7 1 3 2 2 2 3 1 2 1 4 2 15 1 2 1 2 3 3 1 1 1 2 1 4 4 3 1 8 1 4 2 4 2 2 8 1 12 2 1 2 14 2 5 2 16 2 6 2 8 2 2 2 9 2 8 3 6 2 14 2 7 2 7 7 9 3 2 7 2 2 4 6 1 13 1 4 7 3 3 5 1 2 4 2 800"/><path d="M34 521.5H372" stroke-dasharray="2 2 2 2 2 6 4 4 3 2 2 1 11 2 5 2 4 3 2 3 3 3 9 1 2 1 4 2 3 3 2 8 1 12 2 11 2 4 2 23 2 16 2 2 2 17 1 1 2 1 2 7 2 3 2 8 2 5 2 3 4 3 4 9 2 5 2 1 2 2 2 11 2 3 8 1 4 7 4 2 5 1 2 6 2 800"/><path d="M31 522.5H372" stroke-dasharray="2 1 2 2 2 1 7 3 10 2 2 1 7 2 2 3 5 1 9 1 5 2 2 1 4 1 2 3 5 3 3 1 2 11 2 20 4 37 2 22 2 6 1 5 2 7 2 3 2 8 2 10 4 3 3 8 3 5 2 15 2 1 2 3 9 1 4 2 2 1 6 2 3 1 7 3 2 800"/><path d="M31 523.5H372" stroke-dasharray="5 4 8 2 17 2 5 1 2 1 2 1 4 3 2 2 3 1 3 1 6 2 5 3 2 1 5 1 2 1 4 4 2 3 2 20 2 33 2 4 2 8 2 12 2 27 2 5 2 1 2 9 2 2 2 10 5 5 2 4 2 8 3 1 2 1 11 1 2 4 2 1 6 6 7 1 4 800"/><path d="M31 524.5H372" stroke-dasharray="5 4 8 2 14 1 3 3 3 1 2 1 2 1 6 1 8 4 3 1 2 2 3 2 2 5 4 3 2 1 2 4 2 10 2 24 2 5 2 2 2 11 2 6 2 6 2 26 1 14 2 5 2 1 2 12 3 1 5 4 2 14 4 1 4 1 2 5 4 1 8 7 3 1 5 3 4 5 4 800"/><path d="M31 525.5H372" stroke-dasharray="5 3 2 1 4 1 2 1 6 2 12 1 3 2 4 2 2 1 11 3 5 4 3 2 2 12 4 17 2 24 2 5 2 2 2 10 2 7 2 3 2 21 2 6 1 18 2 15 2 1 2 2 5 17 2 3 7 1 2 5 4 1 2 1 5 7 3 1 5 1 7 4 4 800"/><path d="M32 526.5H371" stroke-dasharray="4 2 3 3 2 1 6 3 2 1 4 1 3 1 5 3 3 2 3 1 13 1 2 1 2 5 2 1 2 13 4 13 2 8 2 1 2 32 2 4 2 12 2 21 4 1 2 2 2 16 2 15 2 5 2 2 2 16 2 4 3 3 3 2 2 3 2 2 7 1 2 3 2 4 12 4 3 800"/><path d="M31 527.5H371" stroke-dasharray="9 3 11 2 7 1 9 3 15 2 2 1 2 4 2 5 2 1 2 7 2 4 2 15 2 8 2 1 2 25 2 5 2 20 2 16 2 3 2 1 2 1 3 15 3 24 4 3 4 2 2 9 5 3 18 1 2 1 2 1 4 3 6 2 4 2 3 1 2 800"/><path d="M31 528.5H372" stroke-dasharray="10 2 6 3 5 1 13 4 2 2 12 1 3 7 3 10 2 4 2 2 2 31 2 20 2 2 2 5 4 18 2 16 2 9 3 12 6 20 2 2 3 2 6 2 3 8 5 3 2 1 15 7 6 1 4 2 2 2 2 1 8 800"/><path d="M32 529.5H372" stroke-dasharray="14 1 2 4 18 1 2 1 2 3 5 1 2 1 5 9 2 1 2 6 3 8 2 4 2 22 2 1 1 21 2 11 2 22 2 15 2 21 3 22 3 3 2 1 3 2 2 1 4 5 2 9 10 4 6 6 10 2 15 800"/><path d="M31 530.5H372" stroke-dasharray="15 1 2 6 16 1 2 4 5 1 5 1 2 9 4 1 2 2 3 1 3 1 2 3 4 1 2 1 2 1 2 19 3 59 2 6 2 7 2 17 2 27 2 1 2 2 4 3 2 1 5 4 2 7 2 1 4 1 4 4 6 8 8 3 14 800"/><path d="M31 531.5H372" stroke-dasharray="7 1 2 2 6 6 17 6 5 1 5 9 2 1 3 2 2 1 8 1 2 3 3 2 2 4 2 20 2 9 2 56 2 1 2 23 2 1 2 21 2 1 2 1 2 2 8 1 3 1 2 10 2 1 14 3 3 10 7 3 15 800"/><path d="M31 532.5H371" stroke-dasharray="11 1 5 1 4 2 3 3 11 2 9 1 6 1 5 2 3 1 2 2 2 1 2 1 5 50 2 59 2 26 2 12 2 7 2 1 2 7 6 1 3 5 4 4 2 3 3 2 2 3 2 2 3 6 3 2 2 1 3 2 6 1 9 800"/><path d="M31 533.5H371" stroke-dasharray="13 2 2 1 20 1 2 2 5 1 3 3 4 1 5 1 6 3 2 7 2 6 3 2 2 11 2 29 2 20 2 17 2 13 2 33 2 5 2 1 2 4 2 5 2 9 3 5 5 5 2 1 4 4 4 3 5 4 3 3 11 1 2 2 2 1 4 800"/><path d="M31 534.5H369" stroke-dasharray="18 1 5 1 5 2 4 2 3 2 3 4 2 3 4 3 10 3 2 2 4 2 2 5 3 2 2 11 2 20 2 4 2 1 2 11 2 2 2 3 2 6 2 9 2 13 2 11 2 20 2 1 2 4 3 4 2 5 2 9 2 4 7 1 2 2 2 1 6 2 5 3 4 4 3 1 11 3 2 2 5 800"/><path d="M31 535.5H369" stroke-dasharray="2 1 5 1 2 1 3 1 2 1 11 2 9 2 4 2 2 1 2 3 2 3 4 5 2 6 4 2 2 4 2 11 2 26 2 4 2 14 2 3 1 11 2 9 2 26 2 23 2 4 2 18 2 6 5 1 7 6 9 1 2 11 2 2 8 1 4 6 4 800"/><path d="M31 536.5H370" stroke-dasharray="8 1 2 1 6 2 22 2 7 1 3 2 2 1 4 5 4 6 2 4 2 4 2 11 2 4 2 2 2 61 2 43 1 7 1 19 2 5 1 1 1 1 2 6 5 1 6 3 2 2 7 2 2 10 2 1 2 4 2 1 18 800"/><path d="M32 537.5H370" stroke-dasharray="5 4 22 1 5 1 3 2 7 2 2 2 2 1 4 5 2 8 2 4 2 17 2 4 2 2 2 7 2 12 2 11 2 20 2 3 2 39 2 2 2 6 1 3 1 9 3 3 2 1 2 4 1 3 2 2 2 1 13 1 2 2 5 2 4 2 2 1 2 3 2 1 4 2 21 800"/><path d="M32 538.5H371" stroke-dasharray="2 1 2 4 20 2 2 1 2 3 2 3 9 3 6 3 3 4 3 9 2 17 2 17 2 12 2 11 2 3 1 16 2 41 2 1 2 8 2 2 3 9 3 1 2 3 4 3 5 2 17 4 9 4 6 2 2 2 27 800"/><path d="M32 539.5H371" stroke-dasharray="2 2 2 1 2 2 10 2 5 3 2 2 6 3 9 4 5 3 5 1 4 3 2 7 2 7 2 24 2 29 1 32 2 17 2 7 3 10 3 3 2 12 2 5 10 2 17 5 6 1 2 1 12 2 27 800"/><path d="M35 540.5H369" stroke-dasharray="6 2 3 1 13 7 12 1 2 2 2 4 6 4 2 1 4 1 4 7 3 5 3 14 2 8 2 36 2 4 2 18 2 17 2 8 2 11 2 3 2 7 2 9 28 5 2 1 2 1 11 2 4 4 14 1 9 800"/><path d="M35 541.5H369" stroke-dasharray="6 3 14 9 12 5 3 3 6 2 4 1 7 3 2 5 2 5 2 15 2 28 2 16 2 3 3 56 2 16 2 9 2 4 4 1 17 5 5 1 4 1 2 2 2 12 4 1 6 2 9 800"/><path d="M32 542.5H369" stroke-dasharray="8 3 8 3 8 1 2 2 5 1 2 4 8 3 3 2 10 1 9 7 2 10 4 9 2 21 2 2 3 20 2 28 2 27 2 2 8 20 2 1 22 3 3 1 2 3 3 2 2 1 5 2 2 1 4 2 2 3 2 5 8 800"/><path d="M32 543.5H368" stroke-dasharray="7 4 9 1 9 1 9 1 2 4 6 2 6 2 4 1 5 1 7 7 4 10 4 6 2 1 2 4 2 12 2 1 2 3 2 14 2 28 2 4 2 8 2 19 11 5 2 5 2 2 2 1 2 1 14 1 1 1 7 1 5 3 2 4 2 1 9 1 4 2 2 2 2 1 2 7 3 800"/><path d="M32 544.5H370" stroke-dasharray="3 1 3 2 6 1 4 1 2 1 2 1 3 1 4 3 5 7 2 2 7 2 2 1 5 1 2 1 3 10 4 3 2 9 2 3 4 6 2 5 2 5 2 4 3 15 2 28 4 12 2 19 2 2 7 1 2 2 3 1 2 1 23 1 1 1 4 1 4 2 5 1 5 4 8 2 7 1 7 6 6 800"/><path d="M32 545.5H370" stroke-dasharray="8 1 13 3 2 6 2 3 5 2 7 2 5 1 2 1 2 1 2 1 5 2 2 8 1 2 5 1 2 1 3 4 3 3 4 13 2 11 3 46 3 14 2 17 2 1 2 2 2 3 3 1 3 1 26 3 4 3 2 2 2 1 3 1 6 1 7 1 10 1 9 3 3 2 2 800"/><path d="M34 546.5H366" stroke-dasharray="22 1 6 4 2 1 2 1 2 2 7 4 2 2 5 5 2 2 2 10 2 1 4 1 1 1 5 2 4 3 4 1 2 3 4 4 2 3 2 55 2 15 2 18 4 2 2 4 2 1 37 7 2 2 2 5 2 1 29 2 3 800"/><path d="M35 547.5H369" stroke-dasharray="13 1 7 3 4 1 2 1 5 7 5 10 3 2 2 1 2 2 2 4 2 1 5 1 4 3 13 1 4 1 4 1 4 4 2 3 2 9 2 81 4 4 4 5 30 3 3 1 2 1 4 3 3 6 10 1 26 800"/><path d="M33 548.5H369" stroke-dasharray="14 1 11 5 11 5 2 7 4 1 2 3 5 8 2 1 4 1 1 1 5 2 12 7 3 2 4 19 2 30 2 51 2 4 4 2 2 1 2 1 24 6 3 1 2 1 3 3 4 5 11 2 2 1 11 1 10 800"/><path d="M33 549.5H368" stroke-dasharray="5 1 4 2 2 1 11 3 8 2 7 1 4 5 4 1 3 3 4 4 2 3 2 2 2 3 2 1 2 5 7 2 10 2 4 28 2 21 2 46 4 1 2 2 7 1 2 1 1 1 1 1 22 7 2 2 2 1 3 3 5 1 5 1 4 2 20 2 6 800"/><path d="M33 550.5H367" stroke-dasharray="2 1 3 1 2 1 2 3 10 1 11 1 14 1 3 1 2 3 3 3 4 3 2 3 6 2 14 1 3 2 9 3 2 2 1 5 2 20 2 65 2 2 4 4 2 1 7 1 2 3 22 8 2 1 2 1 2 5 4 1 5 5 2 1 6 3 10 2 5 800"/><path d="M37 551.5H367" stroke-dasharray="4 2 2 4 17 2 17 1 3 3 2 2 2 5 2 1 2 4 5 4 13 1 5 3 9 1 2 8 2 57 2 1 2 24 5 2 2 4 1 3 1 1 1 1 29 3 2 1 2 1 2 5 2 4 4 11 2 2 5 8 3 6 3 800"/><path d="M34 552.5H366" stroke-dasharray="2 2 5 5 3 1 10 3 2 3 14 1 4 3 2 1 3 7 4 3 6 3 16 1 11 1 2 1 2 67 2 1 4 22 5 1 2 10 1 1 1 1 20 1 1 1 2 2 9 1 3 3 3 5 4 9 12 3 6 4 4 800"/><path d="M34 553.5H368" stroke-dasharray="9 3 8 1 2 1 2 3 4 5 12 1 4 3 6 2 3 1 5 4 2 1 2 3 3 2 2 1 3 1 2 4 8 1 4 1 2 13 2 55 4 1 2 21 3 1 6 5 2 3 19 1 1 5 10 1 4 2 3 3 3 1 2 3 2 3 6 1 3 1 3 2 5 5 6 800"/><path d="M34 554.5H368" stroke-dasharray="5 6 7 2 2 2 3 2 7 1 5 1 7 9 4 1 1 1 9 2 2 3 4 1 4 1 1 1 1 1 3 5 3 2 8 1 3 1 2 1 2 7 2 2 2 3 2 18 2 24 4 3 2 16 2 1 2 6 6 1 22 7 2 2 2 1 7 1 4 5 6 4 4 3 2 2 2 1 3 2 2 1 5 3 2 1 6 800"/><path d="M34 555.5H368" stroke-dasharray="19 1 11 1 4 1 2 1 2 3 5 7 6 3 7 1 2 1 3 4 2 1 6 3 13 1 2 1 2 3 6 1 2 11 2 3 2 18 2 24 2 16 2 5 5 2 4 2 29 1 10 4 4 5 3 2 4 6 2 5 2 2 2 1 2 3 2 1 3 4 3 5 2 800"/><path d="M37 556.5H367" stroke-dasharray="16 2 9 1 3 9 5 3 2 4 3 2 7 3 4 2 2 2 4 1 2 1 19 1 6 2 2 1 2 66 2 4 2 10 2 7 2 3 30 1 9 1 5 6 2 5 3 4 2 10 6 1 2 7 2 4 2 1 2 3 4 800"/><path d="M38 557.5H367" stroke-dasharray="26 1 3 3 2 1 2 1 2 1 3 2 3 4 2 4 3 5 2 1 2 5 2 3 5 4 2 1 9 1 7 2 4 7 2 9 2 53 2 3 2 18 2 2 38 3 5 7 2 2 4 2 2 1 4 5 3 1 2 6 2 1 4 3 4 1 2 1 4 800"/><path d="M35 558.5H367" stroke-dasharray="14 2 13 2 7 1 2 2 10 2 2 14 2 1 2 6 2 1 2 1 3 7 13 1 2 5 2 7 2 9 2 58 2 18 4 1 28 4 5 2 2 1 4 6 2 4 6 1 9 3 2 4 2 1 2 1 4 2 5 1 2 1 4 800"/><path d="M35 559.5H365" stroke-dasharray="9 1 8 4 6 1 18 1 2 5 2 1 4 9 3 8 2 1 2 2 2 8 4 4 7 41 2 10 1 24 2 27 2 1 19 1 4 1 3 6 2 3 2 1 4 7 3 4 3 2 9 2 3 3 3 6 2 2 7 2 2 800"/><path d="M35 560.5H366" stroke-dasharray="7 3 9 2 4 1 18 1 2 5 2 3 6 6 6 24 4 1 2 3 4 42 2 10 2 23 2 2 2 25 1 1 19 2 2 1 5 4 2 2 3 1 3 6 5 5 2 2 7 4 2 4 3 1 2 3 2 4 7 1 2 800"/><path d="M36 561.5H366" stroke-dasharray="3 3 2 1 9 2 4 1 3 1 13 1 3 1 7 2 3 1 3 5 2 2 4 2 3 22 3 2 2 2 2 1 2 1 2 7 2 4 2 1 2 10 1 43 2 1 2 23 1 3 20 5 4 1 2 1 2 2 2 2 3 6 4 5 7 2 3 2 4 4 7 1 2 1 2 2 7 1 2 800"/><path d="M36 562.5H363" stroke-dasharray="4 2 2 4 2 2 2 2 4 1 16 2 8 1 3 1 7 3 2 3 10 6 2 7 2 6 2 6 2 1 2 1 2 5 6 3 1 1 2 10 1 43 2 3 2 7 2 1 2 1 4 2 1 1 24 10 2 2 2 1 5 1 1 15 7 2 3 2 5 1 9 1 7 2 5 800"/><path d="M36 563.5H364" stroke-dasharray="8 1 2 1 23 1 5 4 10 1 6 4 3 2 9 7 2 7 2 22 2 3 2 2 2 38 2 12 2 12 2 7 2 1 2 1 6 1 1 1 19 2 6 1 2 2 2 3 4 1 3 2 1 1 1 2 4 6 7 2 2 3 5 1 9 3 13 800"/><path d="M37 564.5H364" stroke-dasharray="5 2 35 1 2 1 2 1 4 2 4 1 5 1 2 8 3 3 2 3 5 5 2 11 2 1 2 4 2 41 2 5 2 11 2 9 2 8 2 5 4 1 2 3 12 1 2 2 2 2 6 1 3 1 4 3 2 1 2 1 1 3 1 2 4 4 3 1 3 7 6 1 10 1 2 2 6 1 4 800"/><path d="M37 565.5H363" stroke-dasharray="3 4 15 1 13 1 8 2 2 2 2 2 2 3 5 1 2 3 2 1 4 4 4 1 5 2 2 1 2 1 2 8 2 1 4 45 4 4 1 22 2 8 2 3 25 9 2 2 6 1 3 2 2 3 4 2 7 1 6 1 2 3 2 3 3 1 13 1 14 800"/><path d="M44 566.5H361" stroke-dasharray="2 1 12 1 7 1 2 4 7 3 2 2 2 4 2 1 5 1 2 2 3 1 2 7 3 8 2 4 2 4 4 3 4 3 2 11 4 1 2 1 2 17 2 2 2 39 29 6 2 3 7 1 2 1 5 2 3 3 4 4 4 1 4 3 5 1 2 1 3 1 19 1 2 800"/><path d="M39 567.5H361" stroke-dasharray="3 4 11 3 2 1 4 1 14 4 3 5 2 3 3 1 2 2 3 3 3 3 2 22 4 2 3 5 2 11 4 1 2 1 2 15 4 43 20 2 7 4 6 1 7 4 5 1 4 10 8 6 4 1 2 1 2 1 20 1 2 800"/><path d="M38 568.5H364" stroke-dasharray="5 1 9 4 3 3 4 1 14 3 5 2 3 4 2 2 4 1 2 2 5 2 6 7 5 6 2 4 2 7 2 3 2 5 4 20 3 16 2 10 2 15 6 1 13 5 2 6 6 1 2 1 4 3 5 2 4 1 2 7 7 2 6 1 2 1 5 1 13 1 5 1 3 1 2 800"/><path d="M38 569.5H364" stroke-dasharray="5 1 8 5 4 1 7 2 5 1 3 4 6 1 4 2 2 2 2 2 5 2 7 2 4 7 5 6 2 18 2 5 6 18 2 17 2 10 2 15 16 1 2 6 2 8 3 1 2 4 2 2 4 1 3 5 2 10 3 3 6 1 7 6 8 1 9 2 2 800"/><path d="M38 570.5H360" stroke-dasharray="13 7 7 1 14 3 7 1 2 4 2 2 2 1 4 5 6 1 3 12 2 6 2 29 2 32 2 30 18 9 4 1 2 4 2 1 3 4 7 1 5 3 2 1 3 1 3 1 3 2 2 8 7 1 2 2 8 1 5 1 3 800"/><path d="M39 571.5H359" stroke-dasharray="10 2 6 1 2 1 18 2 9 2 2 4 2 3 3 7 4 3 2 2 2 8 3 6 2 63 2 25 2 2 15 1 2 3 2 7 5 2 4 1 20 6 3 1 3 1 2 1 5 6 8 1 2 1 8 1 6 1 2 800"/><path d="M40 572.5H354" stroke-dasharray="4 1 4 2 6 1 4 3 14 2 2 1 5 1 4 4 2 3 5 1 4 4 2 5 2 8 2 6 3 5 2 57 2 24 2 2 2 1 12 6 2 9 2 3 3 4 7 4 6 3 2 2 3 3 2 1 7 5 3 1 4 5 2 1 10 800"/><path d="M41 573.5H362" stroke-dasharray="2 5 6 2 6 3 14 1 9 1 7 4 14 2 2 4 2 8 3 4 5 5 2 2 2 53 2 28 14 16 2 3 4 3 2 2 2 1 2 1 3 1 2 2 2 2 2 3 2 3 2 1 15 1 4 3 5 1 9 6 2 800"/><path d="M43 574.5H362" stroke-dasharray="3 2 6 2 6 3 3 1 10 1 6 6 5 4 4 3 4 1 2 1 3 1 2 1 3 7 2 1 2 2 2 11 3 46 4 30 2 3 8 2 2 16 2 1 4 3 8 1 2 1 3 1 2 1 8 1 2 2 11 1 9 2 10 2 7 2 7 800"/><path d="M43 575.5H362" stroke-dasharray="5 4 2 2 11 1 12 1 3 1 6 1 4 1 2 1 6 2 6 2 3 1 2 2 2 10 2 15 2 36 2 9 4 11 2 17 2 4 4 1 2 1 2 2 2 5 2 9 4 3 8 1 5 2 11 1 2 2 9 1 2 1 4 1 3 2 19 2 7 800"/><path d="M41 576.5H362" stroke-dasharray="7 2 2 1 7 1 6 1 15 1 8 2 2 1 2 1 10 2 2 5 2 17 2 7 2 10 2 21 2 7 2 24 2 20 2 1 4 1 2 1 2 2 2 5 2 10 3 2 2 2 4 4 16 1 2 1 2 2 14 7 13 2 3 4 2 1 2 800"/><path d="M41 577.5H360" stroke-dasharray="8 1 7 5 6 1 6 1 3 1 18 5 7 5 2 2 2 9 4 4 2 1 4 2 2 10 2 21 2 7 2 13 4 29 2 1 9 12 2 8 2 3 2 7 2 1 7 1 3 1 2 4 25 2 2 2 2 1 6 1 7 2 2 800"/><path d="M41 578.5H360" stroke-dasharray="18 5 4 1 5 2 2 2 5 2 11 7 2 1 2 1 2 2 2 6 2 5 4 7 4 36 2 23 4 11 2 17 8 1 2 2 2 8 2 3 3 8 2 6 2 1 3 3 3 2 9 1 3 1 11 2 9 6 3 3 11 800"/><path d="M41 579.5H360" stroke-dasharray="18 2 2 1 4 1 3 2 2 4 19 6 5 1 2 2 3 5 4 4 2 6 2 13 3 20 2 2 2 5 2 16 2 13 2 17 4 9 2 13 3 8 2 7 7 1 3 2 9 1 3 3 2 2 4 3 2 1 7 5 4 4 4 1 4 800"/><path d="M43 580.5H359" stroke-dasharray="3 3 9 1 13 2 4 1 21 2 2 1 5 5 2 1 1 6 3 3 2 4 4 13 4 19 2 9 2 18 2 13 2 30 2 5 2 1 2 7 2 8 2 2 7 1 3 1 4 1 4 3 2 6 7 4 5 1 5 3 2 4 4 2 2 800"/><path d="M45 581.5H356" stroke-dasharray="2 4 10 1 11 3 2 1 4 1 8 3 5 2 2 2 4 6 1 8 3 8 3 7 2 6 4 12 3 6 2 3 2 22 2 13 3 7 2 12 3 5 2 5 5 2 2 3 4 2 6 1 2 1 2 5 7 1 3 12 9 3 3 1 1 1 5 3 3 1 6 800"/><path d="M43 582.5H358" stroke-dasharray="5 2 2 1 6 1 7 1 5 1 2 2 6 1 3 2 2 6 2 6 2 1 4 2 2 1 2 5 2 9 2 8 4 5 3 12 3 3 2 1 2 1 4 16 2 10 2 8 2 4 5 10 5 12 5 2 2 5 8 3 2 1 2 1 11 7 2 4 3 1 5 1 8 3 2 1 2 1 8 2 4 800"/><path d="M43 583.5H358" stroke-dasharray="6 1 2 2 4 2 7 2 4 1 2 2 10 2 2 14 7 2 2 8 2 3 3 4 2 9 2 13 2 11 3 3 4 8 2 6 2 9 3 14 4 11 2 1 2 2 2 8 2 1 2 7 2 2 4 2 2 1 2 4 13 4 5 2 3 2 4 3 5 4 2 4 14 800"/><path d="M46 584.5H358" stroke-dasharray="5 3 4 2 6 1 6 1 2 2 11 1 2 3 2 4 2 3 6 1 3 5 2 2 2 3 3 2 1 1 5 18 2 1 5 9 2 15 2 15 4 30 2 1 2 2 2 12 2 6 2 2 4 2 2 11 10 3 2 1 2 3 4 1 3 8 2 2 2 5 5 2 6 800"/><path d="M44 585.5H358" stroke-dasharray="7 4 4 1 4 3 6 1 2 1 8 1 3 1 3 2 4 2 2 3 6 1 4 4 3 5 2 6 5 3 2 13 2 2 4 13 2 10 2 1 2 1 2 10 2 15 2 14 2 2 2 10 2 2 4 5 2 1 2 2 2 4 2 2 3 4 2 2 6 7 8 2 4 2 2 2 4 10 4 1 5 800"/><path d="M44 586.5H358" stroke-dasharray="6 2 13 2 19 2 5 2 9 2 6 2 3 5 5 2 4 3 3 2 2 2 2 4 2 5 2 21 2 10 2 1 2 1 2 25 4 12 4 4 2 8 2 2 2 3 6 1 2 2 2 4 1 3 3 1 5 3 4 3 2 3 8 3 4 1 2 2 4 1 2 3 2 2 4 2 4 800"/><path d="M45 587.5H358" stroke-dasharray="17 1 2 3 12 2 10 1 11 3 5 2 4 1 2 1 5 2 1 1 9 1 4 6 2 5 2 13 2 18 2 14 2 15 2 1 2 11 5 3 3 2 2 2 2 1 2 4 3 1 2 6 2 1 3 3 2 3 6 3 4 1 3 2 4 1 4 3 6 3 2 1 5 2 8 2 4 800"/><path d="M45 588.5H356" stroke-dasharray="14 1 17 1 2 4 8 1 5 1 4 2 2 1 3 3 3 4 1 1 3 2 1 3 5 1 2 1 4 7 2 2 2 15 2 34 2 2 2 9 2 3 4 12 2 4 2 2 2 2 6 3 2 2 2 2 2 2 2 1 3 3 11 3 4 1 4 1 3 1 3 2 2 1 8 4 6 2 3 1 7 800"/><path d="M46 589.5H356" stroke-dasharray="2 4 3 1 2 2 1 1 10 2 2 8 2 1 11 1 15 1 2 9 3 3 2 9 2 1 4 2 2 2 2 16 2 15 2 12 2 6 2 9 2 4 2 8 3 5 4 2 3 3 2 1 2 4 2 5 3 6 1 1 2 2 5 1 2 1 2 3 7 4 3 3 2 1 2 3 3 4 9 1 2 1 6 800"/><path d="M46 590.5H356" stroke-dasharray="4 1 3 2 3 2 1 1 9 3 2 7 11 4 3 1 11 7 3 2 3 1 4 9 2 1 4 8 2 10 3 1 2 15 2 12 2 22 2 9 3 5 8 5 4 2 5 3 4 5 1 1 1 4 2 1 3 1 10 2 3 2 4 2 2 2 3 1 9 3 5 1 2 1 2 1 3 800"/><path d="M48 591.5H355" stroke-dasharray="2 1 8 4 11 1 16 9 7 1 5 3 4 1 3 4 2 2 2 1 2 4 2 1 2 12 2 6 2 2 5 13 2 7 1 4 2 23 4 1 3 3 5 1 3 1 6 1 2 3 3 4 2 1 2 3 7 2 1 3 2 1 2 1 3 1 2 2 4 4 4 1 2 4 2 1 14 1 2 4 2 1 7 800"/><path d="M49 592.5H353" stroke-dasharray="2 1 14 1 22 5 3 4 6 2 2 1 2 2 4 1 4 3 9 2 4 1 2 1 2 7 4 6 6 1 3 12 2 4 2 1 2 3 2 14 2 6 3 4 2 2 20 3 2 4 3 7 2 1 3 6 3 2 4 7 2 4 4 1 2 1 2 3 7 4 7 4 8 800"/><path d="M49 593.5H355" stroke-dasharray="3 1 17 1 8 4 2 1 2 6 3 3 7 5 4 1 2 4 2 1 2 2 2 1 3 3 3 5 2 1 2 2 6 1 2 3 4 4 2 4 2 12 2 6 2 4 2 8 2 6 2 9 2 1 22 3 6 5 2 4 4 3 2 2 7 4 2 4 11 1 6 4 2 2 4 1 3 1 10 800"/><path d="M50 594.5H355" stroke-dasharray="15 1 8 1 7 1 2 3 2 2 6 2 5 8 5 4 3 1 2 3 5 11 2 1 2 2 2 1 3 1 2 6 2 9 2 6 5 9 1 5 2 19 2 1 2 3 25 3 6 3 4 4 4 1 4 3 6 4 2 6 9 1 4 6 3 3 2 1 7 1 6 800"/><path d="M51 595.5H354" stroke-dasharray="2 4 8 2 15 6 2 2 6 3 2 8 2 1 4 1 6 4 6 2 2 7 5 6 2 2 2 6 2 17 5 9 1 15 2 5 2 2 6 2 15 1 5 1 2 7 3 3 4 2 11 1 2 20 14 2 2 1 5 1 7 1 7 800"/><path d="M49 596.5H353" stroke-dasharray="2 5 9 4 3 1 2 1 6 1 2 3 2 3 2 3 2 8 2 1 2 1 2 1 10 1 6 3 2 2 3 2 5 10 4 50 1 1 3 1 2 2 2 1 20 1 13 3 6 5 2 2 2 1 7 2 3 1 2 2 2 3 2 9 7 1 4 2 2 3 11 1 6 800"/><path d="M49 597.5H353" stroke-dasharray="2 1 2 2 9 4 3 1 5 2 2 1 4 1 2 3 2 3 2 3 12 1 8 2 1 1 4 5 2 2 3 4 2 13 2 12 2 15 2 16 3 1 1 1 2 1 2 1 22 1 1 1 6 1 3 1 2 3 4 3 2 2 2 9 5 1 9 1 4 5 2 1 9 7 2 2 2 1 8 1 6 800"/><path d="M50 598.5H352" stroke-dasharray="4 1 7 5 12 1 3 2 2 1 2 2 2 2 4 2 9 2 2 1 6 3 1 1 3 6 3 2 2 1 2 9 2 20 2 5 2 8 2 3 4 9 3 3 4 2 21 1 1 1 7 8 5 4 2 1 2 9 6 2 11 5 4 1 10 3 2 1 2 3 4 3 2 2 5 800"/><path d="M50 599.5H352" stroke-dasharray="2 2 10 3 12 2 2 2 6 1 2 2 4 2 3 1 6 1 2 3 4 1 1 3 4 5 2 6 4 3 3 1 2 25 4 9 2 2 4 3 2 1 2 2 6 1 2 1 11 1 10 3 6 5 2 2 5 7 4 6 7 3 3 4 4 4 2 4 9 2 6 1 8 1 2 2 5 800"/><path d="M52 600.5H351" stroke-dasharray="12 3 10 1 3 2 12 1 6 4 6 3 2 1 3 2 5 1 4 1 2 1 3 2 6 3 3 9 2 14 5 1 2 8 4 4 2 1 5 2 6 3 1 1 30 1 2 2 2 5 2 3 4 2 4 2 14 4 7 6 2 2 7 2 2 1 2 2 2 1 5 1 2 4 2 800"/><path d="M52 601.5H349" stroke-dasharray="6 1 4 4 10 1 3 2 7 1 5 3 3 4 6 3 3 1 2 1 2 1 3 1 12 1 5 2 2 1 2 4 2 3 2 14 5 1 2 10 3 1 8 2 5 1 4 3 33 1 3 1 2 7 4 4 3 1 5 1 8 3 4 2 2 5 3 1 3 1 4 1 2 2 3 10 3 1 2 800"/><path d="M52 602.5H349" stroke-dasharray="6 2 18 1 2 4 2 4 7 1 4 4 5 4 2 3 3 1 16 4 6 1 2 1 2 1 2 8 2 9 2 1 2 7 2 5 5 2 3 3 39 1 6 1 3 1 2 4 2 7 7 1 3 7 2 3 6 3 2 2 6 5 9 2 4 1 2 1 3 1 2 800"/><path d="M53 603.5H347" stroke-dasharray="25 7 2 2 9 1 4 6 2 4 8 1 2 2 6 2 2 2 2 2 8 1 4 1 2 8 2 1 2 1 2 3 2 1 2 5 4 4 7 2 4 1 20 1 18 1 6 9 6 5 3 2 3 1 8 4 2 1 5 3 2 2 6 2 2 1 10 1 4 1 2 3 2 800"/><path d="M54 604.5H347" stroke-dasharray="11 1 2 1 3 1 2 1 4 1 2 2 2 2 2 2 2 1 5 8 2 1 2 1 8 1 5 3 6 2 2 2 1 1 1 2 8 1 2 4 4 2 3 1 2 2 2 2 2 5 2 3 2 1 8 1 8 2 27 1 6 4 2 1 2 7 2 1 4 10 2 1 10 2 5 4 2 7 2 3 2 1 3 2 9 7 2 800"/><path d="M59 605.5H338" stroke-dasharray="15 2 4 1 2 4 3 7 4 5 12 1 14 1 6 11 7 4 6 2 3 1 3 1 10 6 2 2 45 1 2 1 4 2 6 9 5 13 2 1 7 1 6 1 2 1 4 15 5 1 6 800"/><path d="M56 606.5H346" stroke-dasharray="2 1 15 1 4 1 3 4 8 4 2 3 12 1 4 2 5 1 4 1 6 10 2 1 2 1 2 4 2 1 2 7 2 1 6 1 4 3 5 2 42 4 1 1 1 1 3 2 4 5 2 4 2 2 2 2 4 3 2 2 8 1 11 2 6 1 2 3 2 1 5 1 4 1 3 6 2 800"/><path d="M55 607.5H346" stroke-dasharray="3 3 26 2 6 1 2 1 2 2 11 3 3 4 3 4 2 2 5 9 7 20 1 8 2 2 7 2 42 1 3 4 2 4 2 1 2 3 2 2 5 1 2 1 10 2 2 1 10 2 6 3 7 3 11 4 2 1 2 3 2 800"/><path d="M55 608.5H346" stroke-dasharray="25 1 6 2 6 1 2 1 2 2 3 1 6 4 3 1 2 1 3 1 2 1 2 2 3 1 3 9 5 8 3 1 2 1 2 5 6 1 2 2 49 2 11 3 2 1 2 4 8 4 2 1 9 2 8 6 2 1 2 7 2 5 11 1 2 1 4 2 3 800"/><path d="M57 609.5H345" stroke-dasharray="6 1 25 2 2 3 2 3 12 3 4 1 2 1 2 2 2 2 11 1 4 3 3 2 2 6 3 1 2 1 2 2 12 2 45 1 2 2 4 1 4 1 2 12 3 2 2 11 6 2 5 3 2 1 8 4 2 8 4 1 9 1 2 4 2 800"/><path d="M57 610.5H339" stroke-dasharray="8 1 10 2 11 2 4 2 2 2 12 2 7 10 3 2 2 2 7 3 3 2 4 3 3 1 2 6 3 5 5 1 37 1 11 1 4 2 2 1 1 1 1 15 4 9 8 1 4 3 4 1 8 4 5 5 17 800"/><path d="M57 611.5H338" stroke-dasharray="8 2 3 1 6 1 4 1 5 3 5 1 2 4 10 2 12 1 2 6 2 3 6 7 1 2 3 3 3 1 2 1 2 5 2 6 2 1 1 1 41 1 6 1 3 3 2 4 4 6 2 3 5 5 2 1 8 1 2 5 2 4 7 5 5 3 17 800"/><path d="M59 612.5H339" stroke-dasharray="4 8 6 1 2 1 8 2 2 1 4 5 11 1 12 1 2 6 2 2 9 4 1 3 2 10 3 1 2 2 2 5 3 3 34 1 5 2 6 1 9 1 6 6 4 1 5 1 6 2 6 9 2 1 3 1 5 6 6 2 18 800"/><path d="M59 613.5H339" stroke-dasharray="4 1 6 1 6 1 2 1 8 2 8 1 2 3 9 1 3 2 12 8 9 17 2 1 2 2 2 5 39 2 3 3 4 1 6 4 9 1 2 4 3 2 2 3 2 1 5 4 6 2 2 5 2 1 3 1 5 5 7 2 18 800"/><path d="M59 614.5H338" stroke-dasharray="4 1 6 1 3 2 10 7 6 1 2 2 10 1 4 1 12 11 2 1 2 1 2 15 2 1 2 3 2 3 40 8 4 1 2 1 2 2 2 5 4 8 5 1 2 5 6 4 5 1 3 1 2 2 3 2 2 4 2 4 5 1 2 1 17 800"/><path d="M63 615.5H336" stroke-dasharray="6 2 3 1 3 2 2 1 7 2 2 1 8 1 2 1 4 4 4 1 10 13 2 1 5 4 4 3 2 7 2 1 2 2 41 8 1 3 3 2 5 1 2 2 4 3 2 5 8 3 8 2 4 2 11 2 2 2 4 1 8 1 2 1 15 800"/><path d="M63 616.5H340" stroke-dasharray="18 3 7 1 11 4 3 10 3 3 4 6 2 5 3 1 4 4 4 3 2 7 2 1 1 2 27 1 14 8 3 1 2 1 7 1 2 1 7 1 2 4 9 2 5 2 3 1 2 5 3 2 8 3 4 1 10 3 14 1 3 800"/><path d="M62 617.5H340" stroke-dasharray="14 1 4 2 4 2 2 1 4 4 4 7 2 1 6 1 3 4 2 1 2 3 2 6 2 3 2 4 3 6 1 8 1 1 29 1 2 1 1 1 5 1 3 6 2 1 2 5 3 1 2 4 7 7 2 3 2 1 2 1 2 1 4 1 3 8 12 2 12 2 23 800"/><path d="M62 618.5H338" stroke-dasharray="5 1 10 3 8 13 2 1 2 2 11 1 6 1 13 2 2 1 2 3 2 1 2 1 4 14 28 1 4 1 1 3 2 1 3 3 2 1 7 2 1 1 2 1 2 5 3 10 2 2 2 2 2 1 2 1 8 7 14 1 11 1 15 1 7 800"/><path d="M63 619.5H334" stroke-dasharray="23 1 2 5 2 4 7 1 3 1 5 1 9 2 13 1 2 1 2 3 4 3 13 2 27 1 2 1 4 4 2 4 3 1 2 2 6 7 2 4 2 2 2 1 5 4 4 1 2 2 2 2 7 2 16 1 2 4 28 800"/><path d="M64 620.5H334" stroke-dasharray="24 6 2 4 7 1 6 1 2 1 5 6 8 1 6 7 4 5 4 2 5 2 2 1 32 1 2 1 2 4 3 4 4 4 2 3 4 2 3 2 2 1 5 3 3 3 2 2 2 1 4 1 13 1 2 1 4 4 2 1 7 1 20 800"/><path d="M65 621.5H332" stroke-dasharray="9 2 2 2 10 2 6 3 2 2 9 1 2 1 7 4 9 1 5 2 3 2 7 5 2 2 2 2 4 3 18 1 2 1 4 5 2 6 2 6 2 5 4 2 4 2 3 2 2 1 5 3 2 4 2 5 4 1 13 4 3 2 2 1 10 2 17 800"/><path d="M70 622.5H331" stroke-dasharray="3 5 2 2 4 2 10 4 1 2 5 1 2 2 2 1 4 1 2 2 18 1 3 2 3 1 2 4 4 1 3 2 4 1 13 2 6 5 2 6 2 5 2 2 2 1 2 4 7 6 4 2 2 2 3 2 2 4 4 2 5 3 11 4 2 1 3 1 2 1 8 1 3 1 11 1 3 800"/><path d="M67 623.5H331" stroke-dasharray="4 4 6 2 2 3 11 4 4 1 2 1 6 1 2 5 4 1 17 5 6 2 4 2 3 2 4 1 2 1 10 2 9 2 2 6 2 1 2 1 2 3 2 1 3 3 3 1 4 3 6 5 4 2 2 2 5 1 7 4 5 7 4 1 3 4 8 1 19 800"/><path d="M67 624.5H330" stroke-dasharray="5 2 11 2 20 1 2 3 3 7 11 1 2 1 2 2 5 4 13 1 3 4 2 7 23 1 2 4 7 3 3 1 2 4 2 1 6 1 2 1 4 4 4 6 3 2 7 5 5 1 3 1 11 9 2 2 17 800"/><path d="M67 625.5H330" stroke-dasharray="9 1 30 2 4 2 3 5 11 2 12 1 14 2 3 5 1 1 16 3 9 2 2 4 2 2 4 3 4 2 2 3 7 6 2 3 4 12 3 7 2 2 2 2 3 1 12 4 2 1 3 1 18 800"/><path d="M68 626.5H328" stroke-dasharray="2 2 3 1 8 1 11 1 9 3 4 2 3 1 29 1 2 1 11 1 6 3 1 1 6 2 3 3 1 6 4 4 4 7 4 1 2 2 8 1 2 14 7 2 2 2 2 2 2 1 4 4 2 7 2 3 3 5 4 1 7 1 16 800"/><path d="M72 627.5H328" stroke-dasharray="2 2 7 3 10 3 6 3 4 2 4 1 9 1 14 2 2 1 2 6 2 1 4 1 2 2 2 2 2 3 4 1 5 1 1 4 6 5 4 7 3 2 2 2 9 16 2 1 4 2 2 2 2 2 7 13 2 4 2 3 12 3 16 800"/><path d="M72 628.5H330" stroke-dasharray="11 3 2 7 10 3 4 1 5 2 3 1 2 4 3 2 7 3 2 1 2 1 2 1 4 1 4 4 3 1 4 1 5 1 5 6 6 4 2 13 2 4 2 1 2 1 3 5 5 5 3 3 2 1 2 1 2 1 2 1 11 2 6 1 2 1 11 2 8 1 19 800"/><path d="M73 629.5H330" stroke-dasharray="4 1 7 1 2 7 12 6 5 2 13 3 6 1 2 1 4 1 2 1 2 3 2 2 3 1 2 2 4 1 9 2 2 4 6 1 2 1 2 9 2 2 2 4 2 1 2 6 2 1 5 5 8 1 2 1 2 1 2 2 10 2 6 1 2 1 18 1 17 3 2 800"/><path d="M72 630.5H329" stroke-dasharray="13 1 3 1 3 3 8 1 2 2 2 4 2 3 2 1 10 3 14 7 5 1 5 4 3 1 9 2 2 6 7 4 2 6 2 11 5 3 3 1 3 5 8 2 2 5 3 3 6 3 9 1 19 1 15 3 2 800"/><path d="M72 631.5H329" stroke-dasharray="21 1 11 2 4 1 5 1 3 2 5 1 5 2 4 2 2 1 2 1 2 7 11 1 2 1 2 2 2 2 5 1 2 5 7 6 2 1 2 3 2 1 5 4 12 1 3 3 7 4 13 1 11 1 2 1 8 2 10 1 17 4 2 800"/><path d="M73 632.5H323" stroke-dasharray="17 2 13 1 16 1 2 1 13 4 2 2 6 4 3 1 6 1 6 3 2 2 3 1 4 3 5 2 2 4 3 1 16 1 3 1 8 2 2 3 2 2 4 2 10 1 3 3 2 2 8 2 8 1 8 1 19 800"/><path d="M74 633.5H322" stroke-dasharray="15 1 6 1 5 4 6 4 6 1 16 4 2 2 6 2 5 1 18 6 4 1 7 2 3 2 4 2 15 2 3 2 6 6 2 2 5 1 5 5 2 1 2 3 2 1 2 1 4 6 2 2 2 1 27 800"/><path d="M77 634.5H326" stroke-dasharray="7 1 11 1 7 3 9 1 6 2 15 2 3 3 5 2 8 2 7 1 4 9 3 1 7 3 2 2 10 1 10 1 4 1 7 3 6 1 4 2 6 4 7 1 2 1 2 1 6 13 25 2 2 800"/><path d="M78 635.5H326" stroke-dasharray="8 2 16 1 12 2 5 1 2 1 4 1 3 2 7 3 5 1 12 3 3 7 2 4 4 1 7 6 3 1 4 1 11 2 5 1 7 1 8 3 2 2 6 4 4 1 5 6 6 5 2 1 6 1 25 800"/><path d="M78 636.5H324" stroke-dasharray="8 2 5 1 9 2 4 1 4 1 4 3 2 2 2 6 2 4 12 2 2 3 7 3 2 3 2 3 2 4 2 4 5 5 10 1 5 1 2 1 2 2 5 1 2 3 2 1 2 1 3 2 16 1 9 4 9 4 3 1 24 2 4 800"/><path d="M78 637.5H317" stroke-dasharray="10 2 3 1 2 1 5 3 7 4 3 3 3 1 6 2 2 2 15 1 2 2 9 7 4 5 2 1 3 2 5 1 2 2 3 1 2 1 10 3 2 3 2 3 2 3 2 3 3 1 18 2 8 4 9 2 29 800"/><path d="M79 638.5H315" stroke-dasharray="9 4 2 3 6 1 8 2 7 2 2 2 10 1 8 1 6 1 2 2 10 4 6 3 8 3 16 2 4 2 2 3 4 1 2 3 2 8 3 1 5 2 9 4 8 5 12 2 2 1 2 1 17 800"/><path d="M81 639.5H314" stroke-dasharray="7 2 4 4 5 1 8 1 9 2 2 4 7 3 4 3 6 2 7 4 2 4 4 1 6 2 4 1 2 2 4 1 9 2 4 2 5 2 5 3 3 3 3 1 2 2 2 1 16 1 8 5 12 4 20 800"/><path d="M81 640.5H317" stroke-dasharray="12 4 6 1 19 1 3 3 6 1 7 3 2 1 10 5 3 4 10 2 2 1 5 4 2 1 3 1 11 4 3 1 6 4 3 1 8 1 14 1 10 9 11 4 20 1 2 800"/><path d="M83 641.5H317" stroke-dasharray="12 2 6 3 17 2 2 4 4 2 4 1 2 4 16 1 2 5 2 1 11 3 2 1 2 3 4 3 7 1 2 7 6 2 2 2 5 2 4 3 4 1 7 2 11 6 9 2 25 1 2 800"/><path d="M84 642.5H311" stroke-dasharray="11 3 7 1 7 1 7 2 4 4 6 2 6 1 18 7 2 2 2 2 2 1 3 5 4 3 2 2 6 5 6 3 4 2 4 2 4 7 5 3 2 8 2 3 5 6 6 1 2 1 23 800"/><path d="M84 643.5H310" stroke-dasharray="10 2 2 1 2 2 7 1 3 2 6 1 4 2 9 1 6 1 2 8 2 1 5 4 5 1 3 7 2 4 3 1 2 5 5 3 2 1 6 4 7 3 9 3 4 5 6 8 3 4 5 2 6 1 22 800"/><path d="M86 644.5H314" stroke-dasharray="8 1 4 5 5 2 3 2 6 3 2 2 9 1 3 1 2 1 2 7 9 4 11 2 5 5 2 1 2 3 9 1 5 1 5 2 7 3 2 3 4 2 4 1 3 2 6 8 3 1 8 2 29 2 2 800"/><path d="M88 645.5H314" stroke-dasharray="6 1 6 4 3 3 2 4 4 3 3 1 7 1 2 1 5 2 2 7 10 1 13 1 9 2 4 4 5 1 3 3 3 1 5 3 5 6 7 2 13 6 2 5 8 4 4 1 24 2 2 800"/><path d="M88 646.5H308" stroke-dasharray="13 4 2 3 17 1 6 2 8 1 2 8 19 1 14 2 6 1 6 1 5 1 2 1 5 1 7 5 9 2 2 1 9 3 7 3 3 1 7 7 22 800"/><path d="M88 647.5H307" stroke-dasharray="11 6 2 3 1 1 5 1 9 2 5 2 5 3 3 2 3 3 9 1 9 2 11 1 2 2 5 1 6 1 2 1 2 1 2 1 3 1 8 6 6 1 2 3 11 3 7 3 2 2 2 1 4 3 2 1 22 800"/><path d="M89 648.5H305" stroke-dasharray="5 3 2 1 2 3 2 2 12 2 6 1 4 2 2 6 9 1 7 1 12 2 2 3 23 4 2 8 12 5 15 6 3 1 4 3 2 6 2 1 27 800"/><path d="M90 649.5H305" stroke-dasharray="4 3 6 2 2 1 25 3 2 6 17 2 3 1 7 7 4 1 2 1 19 12 10 4 2 2 12 4 8 1 7 8 27 800"/><path d="M97 650.5H303" stroke-dasharray="29 1 6 1 8 2 17 2 3 1 9 7 2 2 2 1 20 7 8 1 2 6 2 2 2 1 8 5 16 3 2 2 26 800"/><path d="M94 651.5H301" stroke-dasharray="2 3 6 2 19 1 5 2 22 2 5 5 2 2 9 2 2 2 2 2 13 1 5 1 17 1 3 4 10 1 3 5 2 2 2 1 2 2 9 1 25 800"/><path d="M94 652.5H300" stroke-dasharray="10 2 6 1 13 1 3 2 8 1 22 3 5 1 19 3 9 3 13 4 4 2 6 1 10 2 2 4 2 1 4 1 13 1 18 1 5 800"/><path d="M95 653.5H299" stroke-dasharray="20 1 6 5 2 3 6 1 6 1 17 2 3 1 2 1 31 4 13 2 28 1 2 1 2 1 37 1 4 800"/><path d="M100 654.5H298" stroke-dasharray="7 2 2 1 12 3 2 4 8 1 3 1 22 3 4 2 9 2 17 2 4 3 6 2 2 1 4 2 13 1 3 1 6 2 6 1 34 800"/><path d="M100 655.5H297" stroke-dasharray="12 1 4 1 6 1 7 2 6 2 2 1 16 1 7 2 2 4 9 6 8 1 6 1 2 6 5 2 6 1 5 2 11 1 7 1 2 2 21 1 14 800"/><path d="M102 656.5H295" stroke-dasharray="10 6 6 1 2 2 3 2 6 2 2 1 8 7 10 4 2 1 11 1 2 1 4 2 2 1 3 1 2 1 3 3 2 1 4 2 4 3 5 2 2 2 9 1 7 3 8 1 25 800"/><path d="M102 657.5H294" stroke-dasharray="10 1 2 3 6 1 2 1 2 4 6 4 9 3 2 2 2 1 18 1 2 2 2 1 3 1 3 1 3 1 6 1 5 1 6 3 2 5 4 3 4 5 12 1 35 800"/><path d="M102 658.5H292" stroke-dasharray="13 1 2 1 21 1 6 1 2 1 2 3 2 3 20 1 2 3 2 1 9 1 1 1 5 1 5 1 6 3 6 1 2 2 2 2 3 8 8 1 34 800"/><path d="M104 659.5H291" stroke-dasharray="9 3 3 1 2 1 2 2 12 2 8 2 3 5 6 1 2 1 3 1 5 7 14 3 4 3 4 1 15 3 5 1 5 1 47 800"/><path d="M106 660.5H289" stroke-dasharray="7 4 2 1 4 1 2 1 11 6 4 2 4 1 2 1 2 2 5 1 2 1 1 1 3 2 2 4 2 2 9 1 7 3 4 1 4 1 6 4 2 1 6 3 2 1 45 800"/><path d="M108 661.5H287" stroke-dasharray="5 4 2 2 12 2 16 1 8 4 2 3 2 3 7 1 2 1 2 5 5 2 5 2 2 3 2 1 4 1 7 1 4 2 2 1 2 3 7 2 2 3 32 800"/><path d="M112 662.5H287" stroke-dasharray="7 1 5 1 4 1 3 1 16 3 8 7 2 1 7 3 2 1 3 1 1 3 8 1 2 1 5 1 2 2 16 2 5 3 3 2 2 1 2 1 2 1 28 2 2 800"/><path d="M112 663.5H287" stroke-dasharray="17 2 3 1 3 2 11 1 7 1 2 6 3 1 4 1 6 2 2 1 1 3 9 2 7 4 3 1 15 1 6 1 3 2 2 1 33 3 2 800"/><path d="M118 664.5H282" stroke-dasharray="3 1 16 2 15 1 2 2 2 6 2 2 3 2 6 2 2 3 4 5 10 3 4 3 4 4 9 1 3 1 2 4 2 1 32 800"/><path d="M116 665.5H281" stroke-dasharray="4 2 10 1 5 5 12 5 2 10 3 1 7 1 4 1 5 5 4 1 3 5 4 2 13 1 10 1 2 1 18 1 5 1 3 1 6 800"/><path d="M116 666.5H277" stroke-dasharray="11 1 2 5 5 3 10 4 5 4 5 2 2 1 2 6 4 1 7 1 2 5 8 1 3 2 4 1 5 4 2 2 33 2 6 800"/><path d="M119 667.5H277" stroke-dasharray="5 4 3 4 14 3 10 2 7 3 4 2 2 3 3 2 6 1 15 2 2 6 3 1 2 1 2 1 8 2 28 1 6 800"/><path d="M119 668.5H270" stroke-dasharray="5 5 2 3 17 1 7 2 8 2 2 1 3 3 4 2 2 2 7 2 11 4 2 1 9 3 2 2 7 1 17 1 11 800"/><path d="M121 669.5H270" stroke-dasharray="3 3 10 2 12 2 6 1 13 4 2 2 18 1 9 1 2 2 2 1 10 4 39 800"/><path d="M124 670.5H270" stroke-dasharray="12 2 11 3 11 2 6 4 4 2 22 3 3 1 3 1 3 1 2 3 4 4 31 2 6 800"/><path d="M124 671.5H276" stroke-dasharray="7 2 3 2 10 2 4 1 16 4 4 1 2 2 6 1 7 1 7 1 3 1 2 1 3 1 2 3 4 2 33 2 5 5 2 800"/><path d="M126 672.5H276" stroke-dasharray="5 5 13 1 21 1 7 1 3 1 4 1 4 2 11 2 5 1 3 6 4 2 33 2 2 1 2 5 2 800"/><path d="M128 673.5H262" stroke-dasharray="2 1 7 1 6 1 13 6 3 2 13 1 2 2 6 3 10 1 9 5 5 1 34 800"/><path d="M131 674.5H262" stroke-dasharray="15 1 9 5 2 7 12 2 10 3 7 1 2 1 6 8 40 800"/><path d="M135 675.5H257" stroke-dasharray="21 5 2 3 3 3 10 1 5 2 2 5 9 1 3 1 4 10 23 1 3 1 4 800"/><path d="M136 676.5H251" stroke-dasharray="3 2 6 3 6 1 4 5 3 1 7 1 14 4 2 1 2 3 5 1 5 1 4 1 3 2 3 1 16 3 2 800"/><path d="M142 677.5H246" stroke-dasharray="7 1 11 5 2 1 8 1 7 1 6 2 7 2 5 1 15 2 10 1 9 800"/><path d="M144 678.5H246" stroke-dasharray="5 3 8 1 5 1 10 1 7 1 3 1 10 1 6 2 9 2 2 1 23 800"/><path d="M144 679.5H244" stroke-dasharray="5 2 5 1 3 1 5 1 11 3 18 1 5 1 3 3 2 1 3 1 25 800"/><path d="M147 680.5H241" stroke-dasharray="2 1 5 2 2 3 4 4 2 2 4 3 9 2 2 1 4 1 5 1 3 4 16 1 11 800"/><path d="M150 681.5H246" stroke-dasharray="10 4 3 3 3 1 3 2 11 2 8 2 8 3 15 2 5 9 2 800"/><path d="M151 682.5H246" stroke-dasharray="10 4 8 1 14 2 7 1 2 2 10 1 11 1 2 4 2 3 2 6 2 800"/><path d="M156 683.5H238" stroke-dasharray="5 1 2 2 17 3 2 2 9 3 3 1 6 1 14 4 3 2 2 800"/><path d="M158 684.5H234" stroke-dasharray="2 2 3 1 10 1 11 2 9 2 28 2 3 800"/><path d="M163 685.5H232" stroke-dasharray="2 1 3 2 15 4 6 2 18 4 2 2 8 800"/><path d="M166 686.5H232" stroke-dasharray="3 2 3 1 7 7 6 1 5 1 14 1 7 1 7 800"/><path d="M177 687.5H230" stroke-dasharray="4 8 12 1 22 1 2 1 2 800"/><path d="M179 688.5H220" stroke-dasharray="2 8 3 2 19 1 6 800"/><path d="M190 689.5H213" stroke-dasharray="2 4 2 2 13 800"/></g><g stroke="#3af" fill="none"><path d="M97 400.5H293" stroke-dasharray="1 194 1 800"/><path d="M96 401.5H294" stroke-dasharray="1 1 1 192 1 1 1 800"/><path d="M96 402.5H294" stroke-dasharray="3 192 3 800"/><path d="M229 422.5H230"/><path d="M228 423.5H231" stroke-dasharray="1 1 1 800"/><path d="M228 424.5H231"/><path d="M316 430.5H317"/><path d="M315 431.5H318" stroke-dasharray="1 1 1 800"/><path d="M315 432.5H318"/><path d="M227 434.5H228"/><path d="M224 435.5H229" stroke-dasharray="1 1 1 1 1 800"/><path d="M223 436.5H229" stroke-dasharray="1 1 4 800"/><path d="M223 437.5H226"/><path d="M213 440.5H214"/><path d="M212 441.5H215" stroke-dasharray="1 1 1 800"/><path d="M212 442.5H215"/><path d="M283 445.5H284"/><path d="M282 446.5H285" stroke-dasharray="1 1 1 800"/><path d="M282 447.5H285"/><path d="M213 448.5H214"/><path d="M212 449.5H215" stroke-dasharray="1 1 1 800"/><path d="M212 450.5H215"/><path d="M258 452.5H259"/><path d="M257 453.5H260" stroke-dasharray="1 1 1 800"/><path d="M257 454.5H260"/><path d="M193 455.5H194"/><path d="M192 456.5H195" stroke-dasharray="1 1 1 800"/><path d="M85 457.5H195" stroke-dasharray="1 106 3 800"/><path d="M84 458.5H87" stroke-dasharray="1 1 1 800"/><path d="M84 459.5H87"/><path d="M154 474.5H251" stroke-dasharray="1 95 1 800"/><path d="M153 475.5H252" stroke-dasharray="1 1 1 93 1 1 1 800"/><path d="M153 476.5H252" stroke-dasharray="3 93 3 800"/><path d="M183 479.5H184"/><path d="M182 480.5H290" stroke-dasharray="1 1 1 102 1 1 1 800"/><path d="M182 481.5H290" stroke-dasharray="3 102 3 800"/><path d="M211 483.5H212"/><path d="M210 484.5H213" stroke-dasharray="1 1 1 800"/><path d="M210 485.5H213"/><path d="M234 488.5H235"/><path d="M124 489.5H236" stroke-dasharray="1 23 1 32 1 51 1 1 1 800"/><path d="M123 490.5H236" stroke-dasharray="1 1 1 21 1 1 1 30 1 1 1 50 3 800"/><path d="M123 491.5H183" stroke-dasharray="3 21 3 30 3 800"/><path d="M109 495.5H110"/><path d="M108 496.5H288" stroke-dasharray="1 1 1 176 1 800"/><path d="M108 497.5H289" stroke-dasharray="3 175 1 1 1 800"/><path d="M193 498.5H289" stroke-dasharray="1 92 3 800"/><path d="M192 499.5H195" stroke-dasharray="1 1 1 800"/><path d="M192 500.5H195"/><path d="M310 509.5H311"/><path d="M309 510.5H312" stroke-dasharray="1 1 1 800"/><path d="M309 511.5H312"/><path d="M130 512.5H131"/><path d="M129 513.5H132" stroke-dasharray="1 1 1 800"/><path d="M129 514.5H132"/><path d="M306 515.5H307"/><path d="M305 516.5H308" stroke-dasharray="1 1 1 800"/><path d="M305 517.5H308"/><path d="M236 521.5H237"/><path d="M235 522.5H238" stroke-dasharray="1 1 1 800"/><path d="M235 523.5H245" stroke-dasharray="3 6 1 800"/><path d="M243 524.5H246" stroke-dasharray="1 1 1 800"/><path d="M226 525.5H246" stroke-dasharray="1 16 3 800"/><path d="M225 526.5H228" stroke-dasharray="1 1 1 800"/><path d="M225 527.5H228"/><path d="M270 537.5H271"/><path d="M185 538.5H272" stroke-dasharray="1 83 1 1 1 800"/><path d="M184 539.5H272" stroke-dasharray="1 1 1 82 3 800"/><path d="M184 540.5H187"/><path d="M305 543.5H306"/><path d="M116 544.5H307" stroke-dasharray="1 187 1 1 1 800"/><path d="M115 545.5H307" stroke-dasharray="1 1 1 186 3 800"/><path d="M115 546.5H118"/><path d="M157 549.5H158"/><path d="M156 550.5H159" stroke-dasharray="1 1 1 800"/><path d="M156 551.5H272" stroke-dasharray="3 112 1 800"/><path d="M270 552.5H273" stroke-dasharray="1 1 1 800"/><path d="M270 553.5H273"/><path d="M178 556.5H179"/><path d="M177 557.5H205" stroke-dasharray="1 1 1 24 1 800"/><path d="M177 558.5H206" stroke-dasharray="3 23 1 1 1 800"/><path d="M203 559.5H206"/><path d="M129 560.5H187" stroke-dasharray="1 56 1 800"/><path d="M128 561.5H188" stroke-dasharray="1 1 1 54 1 1 1 800"/><path d="M128 562.5H305" stroke-dasharray="3 54 3 116 1 800"/><path d="M303 563.5H306" stroke-dasharray="1 1 1 800"/><path d="M303 564.5H306"/><path d="M160 565.5H161"/><path d="M159 566.5H162" stroke-dasharray="1 1 1 800"/><path d="M159 567.5H162"/><path d="M254 572.5H255"/><path d="M253 573.5H256" stroke-dasharray="1 1 1 800"/><path d="M128 574.5H256" stroke-dasharray="1 124 3 800"/><path d="M127 575.5H130" stroke-dasharray="1 1 1 800"/><path d="M127 576.5H130"/><path d="M240 580.5H241"/><path d="M239 581.5H242" stroke-dasharray="1 1 1 800"/><path d="M239 582.5H242"/><path d="M287 586.5H288"/><path d="M118 587.5H289" stroke-dasharray="1 167 1 1 1 800"/><path d="M117 588.5H289" stroke-dasharray="1 1 1 166 3 800"/><path d="M117 589.5H287" stroke-dasharray="3 166 1 800"/><path d="M285 590.5H288" stroke-dasharray="1 1 1 800"/><path d="M164 591.5H288" stroke-dasharray="1 120 3 800"/><path d="M163 592.5H166" stroke-dasharray="1 1 1 800"/><path d="M163 593.5H166"/><path d="M176 606.5H177"/><path d="M175 607.5H178" stroke-dasharray="1 1 1 800"/><path d="M175 608.5H178"/><path d="M248 609.5H249"/><path d="M247 610.5H250" stroke-dasharray="1 1 1 800"/><path d="M247 611.5H250"/><path d="M225 614.5H226"/><path d="M224 615.5H227" stroke-dasharray="1 1 1 800"/><path d="M224 616.5H227"/><path d="M234 617.5H235"/><path d="M233 618.5H236" stroke-dasharray="1 1 1 800"/><path d="M233 619.5H236"/><path d="M188 626.5H189"/><path d="M187 627.5H190" stroke-dasharray="1 1 1 800"/><path d="M187 628.5H190"/><path d="M172 659.5H173"/><path d="M171 660.5H174" stroke-dasharray="1 1 1 800"/><path d="M171 661.5H174"/></g>

<g stroke="#ffa500" fill="none"><circle cx="201.5" cy="518.5" r="29.87"/><circle cx="201.5" cy="518.5" r="58.83"/><circle cx="201.5" cy="518.5" r="86.00"/><circle cx="201.5" cy="518.5" r="110.56"/><circle cx="201.5" cy="518.5" r="131.76"/><circle cx="201.5" cy="518.5" r="148.96"/><circle cx="201.5" cy="518.5" r="161.63"/><circle cx="201.5" cy="518.5" r="169.39"/><circle cx="201.5" cy="518.5" r="172.00"/><path d="M201.5 346.5V690.5M29.5 518.5H373.5"/></g>
<path d="M101.5 72V217M676.5 72V217M101 216.5H677M93 72.5H101M677 72.5H684M97 79.5H101M677 79.5H680M97 86.5H101M677 86.5H680M97 93.5H101M677 93.5H680M97 101.5H101M677 101.5H680M93 108.5H101M677 108.5H684M97 115.5H101M677 115.5H680M97 122.5H101M677 122.5H680M97 129.5H101M677 129.5H680M97 137.5H101M677 137.5H680M93 144.5H101M677 144.5H684M97 151.5H101M677 151.5H680M97 158.5H101M677 158.5H680M97 165.5H101M677 165.5H680M97 173.5H101M677 173.5H680M93 180.5H101M677 180.5H684M97 187.5H101M677 187.5H680M97 194.5H101M677 194.5H680M97 201.5H101M677 201.5H680M97 209.5H101M677 209.5H680M93 216.5H101M677 216.5H684M101.5 217V228M125.5 217V224M149.5 217V224M173.5 217V224M197.5 217V224M220.5 217V224M244.5 217V228M268.5 217V224M292.5 217V224M316.5 217V224M340.5 217V224M364.5 217V224M388.5 217V228M412.5 217V224M436.5 217V224M460.5 217V224M484.5 217V224M508.5 217V224M532.5 217V228M556.5 217V224M580.5 217V224M604.5 217V224M628.5 217V224M652.5 217V224M676.5 217V228" stroke="#fff" fill="none"/>
<path d="M101.5 211.5H113.5V193.5H125.5V188.5H137.5V197.5H149.5V214.5H161.5V214.5H173.5V215.5H185.5V215.5H197.5V215.5H209.5V215.5H220.5V215.5H232.5V215.5H244.5V215.5H256.5V215.5H268.5V214.5H280.5V215.5H292.5V215.5H304.5V215.5H316.5V215.5H328.5V215.5H340.5V215.5H352.5V216.5H364.5V216.5H376.5V215.5H388.5V206.5H400.5V212.5H412.5V215.5H424.5V215.5H436.5V215.5H448.5V215.5H460.5V215.5H472.5V215.5H484.5V214.5H496.5V214.5H508.5V215.5H520.5V214.5H532.5V215.5H544.5V215.5H556.5V215.5H568.5V215.5H580.5V215.5H592.5V215.5H604.5V215.5H616.5V215.5H628.5V216.5H640.5V215.5H652.5V215.5H664.5V214.5H676.5" stroke="#f00" fill="none"/><path d="M101.5 186.5H113.5V152.5H125.5V96.5H137.5V169.5H149.5V199.5H161.5V197.5H173.5V195.5H185.5V192.5H197.5V184.5H209.5V180.5H220.5V179.5H232.5V179.5H244.5V184.5H256.5V194.5H268.5V196.5H280.5V204.5H292.5V206.5H304.5V202.5H316.5V205.5H328.5V204.5H340.5V209.5H352.5V209.5H364.5V210.5H376.5V208.5H388.5V174.5H400.5V193.5H412.5V205.5H424.5V202.5H436.5V201.5H448.5V196.5H460.5V194.5H472.5V188.5H484.5V177.5H496.5V179.5H508.5V177.5H520.5V178.5H532.5V179.5H544.5V194.5H556.5V204.5H568.5V205.5H580.5V205.5H592.5V207.5H604.5V203.5H616.5V203.5H628.5V205.5H640.5V210.5H652.5V209.5H664.5V204.5H676.5" stroke="#0ff" fill="none"/>
<polygon points="533,374 550,374 550,381 550,381 550,387 554,387 554,394 555,394 555,400 559,400 559,407 560,407 560,413 559,413 559,420 558,420 558,426 559,426 559,433 561,433 561,439 561,439 561,445 565,445 565,452 574,452 574,458 580,458 580,465 590,465 590,471 598,471 598,478 613,478 613,484 625,484 625,491 631,491 631,497 637,497 637,504 641,504 641,510 643,510 643,516 638,516 638,523 636,523 636,529 629,529 629,536 615,536 615,542 609,542 609,549 595,549 595,555 587,555 587,562 581,562 581,568 573,568 573,574 570,574 570,581 566,581 566,587 558,587 558,594 554,594 554,600 552,600 552,607 549,607 549,613 548,613 548,620 548,620 548,626 547,626 547,632 533,633" fill="#ff0"/>
<path d="M532.5 374V634M532 633.5H677M522 374.5H532M528 380.5H532M528 387.5H532M528 393.5H532M528 400.5H532M528 406.5H532M528 413.5H532M528 419.5H532M528 426.5H532M528 432.5H532M522 439.5H532M528 445.5H532M528 451.5H532M528 458.5H532M528 464.5H532M528 471.5H532M528 477.5H532M528 484.5H532M528 490.5H532M528 497.5H532M522 503.5H532M528 509.5H532M528 516.5H532M528 522.5H532M528 529.5H532M528 535.5H532M528 542.5H532M528 548.5H532M528 555.5H532M528 561.5H532M522 568.5H532M528 574.5H532M528 580.5H532M528 587.5H532M528 593.5H532M528 600.5H532M528 606.5H532M528 613.5H532M528 619.5H532M528 626.5H532M522 633.5H532M532.5 634V642M539.5 634V639M546.5 634V639M554.5 634V639M561.5 634V639M568.5 634V642M575.5 634V639M582.5 634V639M590.5 634V639M597.5 634V639M604.5 634V642M611.5 634V639M619.5 634V639M626.5 634V639M633.5 634V639M640.5 634V642M647.5 634V639M655.5 634V639M662.5 634V639M669.5 634V639M676.5 634V642" stroke="#fff" fill="none"/>
<filter id="th" x="0" y="0" width="720" height="720" filterUnits="userSpaceOnUse"><feComponentTransfer><feFuncA type="discrete" tableValues="0 1 1 1"/></feComponentTransfer></filter><filter id="th2" x="0" y="0" width="720" height="720" filterUnits="userSpaceOnUse"><feComponentTransfer><feFuncA type="discrete" tableValues="0 0 1 1"/></feComponentTransfer></filter><g fill="#fff" stroke="#fff" filter="url(#th)"><text transform="translate(273.32,56.70) scale(1.077,1.084)" font-family="Liberation Serif" font-weight="normal" font-size="30" letter-spacing="0.00" stroke-width="0.3">Meteor</text><text transform="translate(383.97,56.70) scale(1.030,1.030)" font-family="Liberation Serif" font-weight="normal" font-size="30" letter-spacing="0.45" stroke-width="0.3">Flux</text><text transform="translate(131.90,272.60) scale(1.014,1.014)" font-family="Liberation Serif" font-weight="normal" font-size="20" letter-spacing="0.77" stroke-width="0.15">Yesterday</text><text transform="translate(317.30,272.50) scale(0.964,0.964)" font-family="Liberation Serif" font-weight="normal" font-size="20" letter-spacing="1.44" stroke-width="0.15">Time</text><text transform="translate(371.51,272.50) scale(0.993,0.993)" font-family="Liberation Serif" font-weight="normal" font-size="20" letter-spacing="1.18" stroke-width="0.15">(hrs</text><text transform="translate(416.31,272.50) scale(0.993,0.993)" font-family="Liberation Serif" font-weight="normal" font-size="20" letter-spacing="1.83" stroke-width="0.15">UT)</text><text transform="translate(575.50,272.50) scale(0.971,0.971)" font-family="Liberation Serif" font-weight="normal" font-size="20" letter-spacing="1.40" stroke-width="0.15">Today</text><text transform="translate(110.00,331.00) scale(1.062,1.062)" font-family="Liberation Serif" font-weight="normal" font-size="24" letter-spacing="0.43" stroke-width="0.3">Angular</text><text transform="translate(208.94,331.00) scale(1.058,1.087)" font-family="Liberation Serif" font-weight="normal" font-size="24" letter-spacing="0.00" stroke-width="0.3">Distribution</text><text transform="translate(475.61,331.00) scale(1.094,1.125)" font-family="Liberation Serif" font-weight="normal" font-size="24" letter-spacing="0.00" stroke-width="0.3">Height</text><text transform="translate(558.93,331.00) scale(1.072,1.125)" font-family="Liberation Serif" font-weight="normal" font-size="24" letter-spacing="0.00" stroke-width="0.3">Distribution</text><text transform="translate(505.34,697.00) scale(1.057,1.057)" font-family="Liberation Serif" font-weight="normal" font-size="21" letter-spacing="1.18" stroke-width="0.15">Number</text><text transform="translate(594.61,697.00) scale(0.987,0.987)" font-family="Liberation Serif" font-weight="normal" font-size="21" letter-spacing="2.86" stroke-width="0.15">of</text><text transform="translate(627.24,697.00) scale(1.057,1.057)" font-family="Liberation Serif" font-weight="normal" font-size="21" letter-spacing="0.77" stroke-width="0.15">Meteors</text><text transform="translate(38.70,201.36) rotate(-90) scale(0.958,1.044)" font-family="Liberation Serif" font-weight="normal" font-size="24" letter-spacing="0.00" stroke-width="0.3">Meteors/hr</text><text transform="translate(476.70,532.99) rotate(-90) scale(0.985,1.035)" font-family="Liberation Serif" font-weight="normal" font-size="30" letter-spacing="0.00" stroke-width="0.3">Height</text><text transform="translate(490.44,50.60) scale(0.964,1.120)" font-family="Liberation Sans" font-weight="bold" font-size="15" letter-spacing="0.00" stroke-width="0.0">Frequency</text><text transform="translate(571.27,50.60) scale(1.233,1.018)" font-family="Liberation Sans" font-weight="bold" font-size="15" letter-spacing="0.00" stroke-width="0.0">(MHz)</text></g><g stroke="#fff" fill="none"><path d="M535 15.5H686" stroke-dasharray="6 53 5 9 5 24 5 9 5 10 5 8 7 800"/><path d="M535 16.5H680" stroke-dasharray="1 5 1 51 1 5 1 8 1 4 1 23 1 4 1 7 1 5 1 9 1 4 1 7 1 800"/><path d="M535 17.5H680" stroke-dasharray="1 5 1 51 1 5 1 7 1 5 1 22 1 5 1 7 1 5 1 8 1 5 1 7 1 800"/><path d="M535 18.5H680" stroke-dasharray="1 5 1 51 1 5 1 13 1 28 1 7 1 5 1 14 1 7 1 800"/><path d="M535 19.5H680" stroke-dasharray="1 5 1 51 1 5 1 13 1 28 1 7 1 5 1 14 1 7 1 800"/><path d="M535 20.5H685" stroke-dasharray="1 5 1 9 5 9 5 23 1 5 1 12 1 28 1 8 1 5 1 13 1 8 6 800"/><path d="M535 21.5H686" stroke-dasharray="1 5 1 8 1 5 1 7 1 5 1 22 1 5 1 10 2 27 2 9 1 5 1 11 2 15 1 800"/><path d="M535 22.5H686" stroke-dasharray="1 5 1 8 1 5 1 7 1 28 1 5 1 8 2 27 2 11 1 5 1 9 2 17 1 800"/><path d="M79 23.5H686" stroke-dasharray="5 451 1 5 1 8 7 7 1 28 1 5 1 7 1 28 1 13 1 5 1 8 1 19 1 800"/><path d="M78 24.5H686" stroke-dasharray="1 5 1 450 1 5 1 8 1 13 1 28 1 5 1 7 1 28 1 13 1 5 1 8 1 19 1 800"/><path d="M84 25.5H686" stroke-dasharray="1 450 1 5 1 8 1 13 1 28 1 5 1 7 1 28 1 13 1 5 1 8 1 13 1 5 1 800"/><path d="M84 26.5H685" stroke-dasharray="1 450 6 10 6 8 6 23 5 8 7 22 7 8 5 9 7 8 5 800"/><path d="M84 27.5H85"/><path d="M80 28.5H84"/><path d="M84 29.5H85"/><path d="M84 30.5H85"/><path d="M84 31.5H85"/><path d="M84 32.5H85"/><path d="M78 33.5H85" stroke-dasharray="1 5 1 800"/><path d="M79 34.5H84"/><path d="M58 39.5H681" stroke-dasharray="1 14 4 560 6 4 5 14 5 4 6 800"/><path d="M57 40.5H682" stroke-dasharray="2 13 1 4 1 558 1 6 1 2 1 5 1 13 1 4 1 2 1 6 1 800"/><path d="M56 41.5H682" stroke-dasharray="1 1 1 12 1 6 1 564 1 2 1 18 1 5 1 2 1 6 1 800"/><path d="M58 42.5H682" stroke-dasharray="1 12 1 6 1 564 1 2 1 24 1 2 1 6 1 800"/><path d="M39 43.5H682" stroke-dasharray="1 6 1 11 1 12 1 6 1 564 1 2 1 24 1 2 1 6 1 800"/><path d="M40 44.5H682" stroke-dasharray="1 4 1 12 1 12 1 6 1 559 5 3 6 18 1 3 1 6 1 800"/><path d="M41 45.5H682" stroke-dasharray="1 2 1 13 1 12 1 6 1 564 1 2 1 5 1 15 2 4 1 6 1 800"/><path d="M42 46.5H682" stroke-dasharray="2 14 1 12 1 6 1 564 1 2 1 5 1 13 2 6 1 6 1 800"/><path d="M42 47.5H682" stroke-dasharray="2 14 1 12 1 6 1 564 1 2 1 5 1 12 1 8 1 6 1 800"/><path d="M41 48.5H682" stroke-dasharray="1 2 1 13 1 12 1 6 1 564 1 2 1 5 1 12 1 8 1 6 1 800"/><path d="M40 49.5H682" stroke-dasharray="1 4 1 12 1 13 1 4 1 558 1 6 1 2 1 5 1 5 3 4 1 8 1 6 1 800"/><path d="M39 50.5H681" stroke-dasharray="1 6 1 9 6 11 4 560 6 4 5 6 3 4 7 3 6 800"/><path d="M60 66.5H79" stroke-dasharray="1 15 3 800"/><path d="M59 67.5H80" stroke-dasharray="2 14 1 3 1 800"/><path d="M59 68.5H81" stroke-dasharray="2 13 1 5 1 800"/><path d="M58 69.5H81" stroke-dasharray="1 1 1 13 1 5 1 800"/><path d="M58 70.5H81" stroke-dasharray="1 1 1 13 1 5 1 800"/><path d="M57 71.5H81" stroke-dasharray="1 2 1 13 1 5 1 800"/><path d="M57 72.5H81" stroke-dasharray="1 2 1 13 1 5 1 800"/><path d="M56 73.5H81" stroke-dasharray="7 11 1 5 1 800"/><path d="M60 74.5H81" stroke-dasharray="1 13 1 5 1 800"/><path d="M60 75.5H80" stroke-dasharray="1 7 2 5 1 3 1 800"/><path d="M58 76.5H79" stroke-dasharray="5 5 2 6 3 800"/><path d="M57 102.5H79" stroke-dasharray="5 14 3 800"/><path d="M56 103.5H80" stroke-dasharray="1 5 1 12 1 3 1 800"/><path d="M62 104.5H81" stroke-dasharray="1 11 1 5 1 800"/><path d="M62 105.5H81" stroke-dasharray="1 11 1 5 1 800"/><path d="M62 106.5H81" stroke-dasharray="1 11 1 5 1 800"/><path d="M58 107.5H81" stroke-dasharray="5 11 1 5 1 800"/><path d="M62 108.5H81" stroke-dasharray="1 11 1 5 1 800"/><path d="M62 109.5H81" stroke-dasharray="1 11 1 5 1 800"/><path d="M62 110.5H81" stroke-dasharray="1 11 1 5 1 800"/><path d="M56 111.5H80" stroke-dasharray="1 5 1 5 2 5 1 3 1 800"/><path d="M57 112.5H79" stroke-dasharray="5 6 2 6 3 800"/><path d="M57 138.5H79" stroke-dasharray="5 14 3 800"/><path d="M57 139.5H80" stroke-dasharray="1 4 1 12 1 3 1 800"/><path d="M56 140.5H81" stroke-dasharray="1 5 1 11 1 5 1 800"/><path d="M62 141.5H81" stroke-dasharray="1 11 1 5 1 800"/><path d="M62 142.5H81" stroke-dasharray="1 11 1 5 1 800"/><path d="M60 143.5H81" stroke-dasharray="2 12 1 5 1 800"/><path d="M57 144.5H81" stroke-dasharray="3 14 1 5 1 800"/><path d="M56 145.5H81" stroke-dasharray="1 17 1 5 1 800"/><path d="M56 146.5H81" stroke-dasharray="1 17 1 5 1 800"/><path d="M56 147.5H80" stroke-dasharray="1 11 2 5 1 3 1 800"/><path d="M56 148.5H79" stroke-dasharray="7 5 2 6 3 800"/><path d="M59 174.5H79" stroke-dasharray="1 16 3 800"/><path d="M58 175.5H80" stroke-dasharray="2 15 1 3 1 800"/><path d="M57 176.5H81" stroke-dasharray="1 1 1 14 1 5 1 800"/><path d="M59 177.5H81" stroke-dasharray="1 14 1 5 1 800"/><path d="M59 178.5H81" stroke-dasharray="1 14 1 5 1 800"/><path d="M59 179.5H81" stroke-dasharray="1 14 1 5 1 800"/><path d="M59 180.5H81" stroke-dasharray="1 14 1 5 1 800"/><path d="M59 181.5H81" stroke-dasharray="1 14 1 5 1 800"/><path d="M59 182.5H81" stroke-dasharray="1 14 1 5 1 800"/><path d="M59 183.5H80" stroke-dasharray="1 8 2 5 1 3 1 800"/><path d="M57 184.5H79" stroke-dasharray="6 5 2 6 3 800"/><path d="M58 210.5H79" stroke-dasharray="3 15 3 800"/><path d="M57 211.5H80" stroke-dasharray="1 3 1 13 1 3 1 800"/><path d="M56 212.5H81" stroke-dasharray="1 5 1 11 1 5 1 800"/><path d="M56 213.5H81" stroke-dasharray="1 5 1 11 1 5 1 800"/><path d="M56 214.5H81" stroke-dasharray="1 5 1 11 1 5 1 800"/><path d="M56 215.5H81" stroke-dasharray="1 5 1 11 1 5 1 800"/><path d="M56 216.5H81" stroke-dasharray="1 5 1 11 1 5 1 800"/><path d="M56 217.5H81" stroke-dasharray="1 5 1 11 1 5 1 800"/><path d="M56 218.5H81" stroke-dasharray="1 5 1 11 1 5 1 800"/><path d="M57 219.5H80" stroke-dasharray="1 3 1 6 2 5 1 3 1 800"/><path d="M58 220.5H79" stroke-dasharray="3 7 2 6 3 800"/><path d="M94 241.5H672" stroke-dasharray="2 138 1 5 5 137 2 138 1 5 5 136 3 800"/><path d="M93 242.5H673" stroke-dasharray="1 2 1 136 2 5 1 4 1 135 1 2 1 136 2 5 1 4 1 134 1 3 1 800"/><path d="M92 243.5H674" stroke-dasharray="1 4 1 134 1 1 1 4 1 5 1 134 1 4 1 134 1 1 1 4 1 5 1 133 1 5 1 800"/><path d="M92 244.5H674" stroke-dasharray="1 4 1 136 1 10 1 134 1 4 1 136 1 10 1 133 1 5 1 800"/><path d="M92 245.5H674" stroke-dasharray="1 4 1 136 1 9 1 135 1 4 1 136 1 9 1 134 1 5 1 800"/><path d="M92 246.5H674" stroke-dasharray="1 4 1 136 1 7 2 136 1 4 1 136 1 7 2 135 1 5 1 800"/><path d="M92 247.5H674" stroke-dasharray="1 4 1 136 1 5 2 138 1 4 1 136 1 5 2 137 1 5 1 800"/><path d="M92 248.5H674" stroke-dasharray="1 4 1 136 1 4 1 140 1 4 1 136 1 4 1 139 1 5 1 800"/><path d="M93 249.5H673" stroke-dasharray="1 2 1 137 1 4 1 141 1 2 1 137 1 4 1 140 1 3 1 800"/><path d="M94 250.5H672" stroke-dasharray="2 136 5 2 7 136 2 136 5 2 7 135 3 800"/><path d="M488 365.5H507" stroke-dasharray="1 8 1 6 3 800"/><path d="M487 366.5H508" stroke-dasharray="2 7 2 5 1 3 1 800"/><path d="M486 367.5H509" stroke-dasharray="1 1 1 6 1 1 1 4 1 5 1 800"/><path d="M488 368.5H509" stroke-dasharray="1 8 1 4 1 5 1 800"/><path d="M488 369.5H509" stroke-dasharray="1 8 1 4 1 5 1 800"/><path d="M488 370.5H509" stroke-dasharray="1 8 1 4 1 5 1 800"/><path d="M488 371.5H509" stroke-dasharray="1 8 1 4 1 5 1 800"/><path d="M488 372.5H509" stroke-dasharray="1 8 1 4 1 5 1 800"/><path d="M488 373.5H509" stroke-dasharray="1 8 1 4 1 5 1 800"/><path d="M488 374.5H508" stroke-dasharray="1 8 1 5 1 3 1 800"/><path d="M486 375.5H507" stroke-dasharray="5 4 5 4 3 800"/><path d="M488 430.5H507" stroke-dasharray="1 7 3 5 3 800"/><path d="M487 431.5H508" stroke-dasharray="2 6 1 3 1 3 1 3 1 800"/><path d="M486 432.5H509" stroke-dasharray="1 1 1 5 1 5 1 1 1 5 1 800"/><path d="M488 433.5H509" stroke-dasharray="1 5 1 5 1 1 1 5 1 800"/><path d="M488 434.5H509" stroke-dasharray="1 5 1 5 1 1 1 5 1 800"/><path d="M488 435.5H509" stroke-dasharray="1 5 1 5 1 1 1 5 1 800"/><path d="M488 436.5H509" stroke-dasharray="1 5 1 5 1 1 1 5 1 800"/><path d="M488 437.5H509" stroke-dasharray="1 5 1 5 1 1 1 5 1 800"/><path d="M488 438.5H509" stroke-dasharray="1 5 1 5 1 1 1 5 1 800"/><path d="M488 439.5H508" stroke-dasharray="1 6 1 3 1 3 1 3 1 800"/><path d="M486 440.5H507" stroke-dasharray="5 5 3 5 3 800"/><path d="M497 495.5H510" stroke-dasharray="5 5 3 800"/><path d="M496 496.5H511" stroke-dasharray="1 5 1 3 1 3 1 800"/><path d="M496 497.5H512" stroke-dasharray="1 5 1 2 1 5 1 800"/><path d="M496 498.5H512" stroke-dasharray="1 5 1 2 1 5 1 800"/><path d="M496 499.5H512" stroke-dasharray="1 5 1 2 1 5 1 800"/><path d="M497 500.5H512" stroke-dasharray="6 2 1 5 1 800"/><path d="M502 501.5H512" stroke-dasharray="1 2 1 5 1 800"/><path d="M502 502.5H512" stroke-dasharray="1 2 1 5 1 800"/><path d="M502 503.5H512" stroke-dasharray="1 2 1 5 1 800"/><path d="M496 504.5H511" stroke-dasharray="1 5 1 3 1 3 1 800"/><path d="M497 505.5H510" stroke-dasharray="5 5 3 800"/><path d="M497 559.5H510" stroke-dasharray="5 5 3 800"/><path d="M496 560.5H511" stroke-dasharray="1 5 1 3 1 3 1 800"/><path d="M496 561.5H512" stroke-dasharray="1 5 1 2 1 5 1 800"/><path d="M496 562.5H512" stroke-dasharray="1 5 1 2 1 5 1 800"/><path d="M496 563.5H512" stroke-dasharray="1 5 1 2 1 5 1 800"/><path d="M496 564.5H512" stroke-dasharray="7 2 1 5 1 800"/><path d="M496 565.5H512" stroke-dasharray="1 5 1 2 1 5 1 800"/><path d="M496 566.5H512" stroke-dasharray="1 5 1 2 1 5 1 800"/><path d="M496 567.5H512" stroke-dasharray="1 5 1 2 1 5 1 800"/><path d="M496 568.5H511" stroke-dasharray="1 5 1 3 1 3 1 800"/><path d="M497 569.5H510" stroke-dasharray="5 5 3 800"/><path d="M496 624.5H510" stroke-dasharray="7 4 3 800"/><path d="M502 625.5H511" stroke-dasharray="1 3 1 3 1 800"/><path d="M502 626.5H512" stroke-dasharray="1 2 1 5 1 800"/><path d="M501 627.5H512" stroke-dasharray="1 3 1 5 1 800"/><path d="M501 628.5H512" stroke-dasharray="1 3 1 5 1 800"/><path d="M500 629.5H512" stroke-dasharray="1 4 1 5 1 800"/><path d="M500 630.5H512" stroke-dasharray="1 4 1 5 1 800"/><path d="M499 631.5H512" stroke-dasharray="1 5 1 5 1 800"/><path d="M499 632.5H512" stroke-dasharray="1 5 1 5 1 800"/><path d="M498 633.5H511" stroke-dasharray="1 7 1 3 1 800"/><path d="M498 634.5H510" stroke-dasharray="1 8 3 800"/><path d="M525 649.5H686" stroke-dasharray="4 9 4 19 4 8 6 19 2 10 4 20 2 9 6 18 4 9 4 800"/><path d="M524 650.5H687" stroke-dasharray="1 4 1 7 1 4 1 17 1 4 1 7 1 23 1 1 1 9 1 4 1 18 1 1 1 9 1 22 1 4 1 7 1 4 1 800"/><path d="M524 651.5H687" stroke-dasharray="1 4 1 7 1 4 1 17 1 4 1 7 1 25 1 9 1 4 1 20 1 9 1 27 1 7 1 4 1 800"/><path d="M524 652.5H687" stroke-dasharray="1 4 1 7 1 4 1 17 1 4 1 7 5 21 1 9 1 4 1 20 1 9 5 21 3 7 1 4 1 800"/><path d="M524 653.5H687" stroke-dasharray="1 4 1 7 1 4 1 17 1 4 1 12 1 20 1 9 1 4 1 20 1 14 1 18 2 10 1 4 1 800"/><path d="M524 654.5H708" stroke-dasharray="1 4 1 7 1 4 1 17 1 4 1 12 1 20 1 9 1 4 1 20 1 14 1 17 1 12 1 4 1 18 3 800"/><path d="M524 655.5H709" stroke-dasharray="1 4 1 7 1 4 1 17 1 4 1 7 1 4 1 20 1 9 1 4 1 20 1 9 1 4 1 17 1 12 1 4 1 17 1 3 1 800"/><path d="M525 656.5H709" stroke-dasharray="4 4 2 3 4 19 4 4 2 3 4 19 5 3 2 3 4 19 5 3 2 3 4 18 6 3 2 3 4 22 1 800"/><path d="M705 657.5H709"/><path d="M708 658.5H709"/><path d="M704 659.5H709" stroke-dasharray="1 3 1 800"/><path d="M705 660.5H708"/><path d="M690 665.5H702" stroke-dasharray="2 7 3 800"/><path d="M689 666.5H704" stroke-dasharray="1 1 1 6 1 3 2 800"/><path d="M691 667.5H704" stroke-dasharray="1 6 1 4 1 800"/><path d="M678 668.5H704" stroke-dasharray="1 4 1 7 1 6 1 4 1 800"/><path d="M679 669.5H704" stroke-dasharray="1 2 1 8 1 6 1 4 1 800"/><path d="M680 670.5H704" stroke-dasharray="2 9 1 6 1 4 1 800"/><path d="M679 671.5H704" stroke-dasharray="1 2 1 8 1 6 2 3 1 800"/><path d="M678 672.5H703" stroke-dasharray="1 4 1 5 4 7 3 800"/></g>
</svg></body></html>
